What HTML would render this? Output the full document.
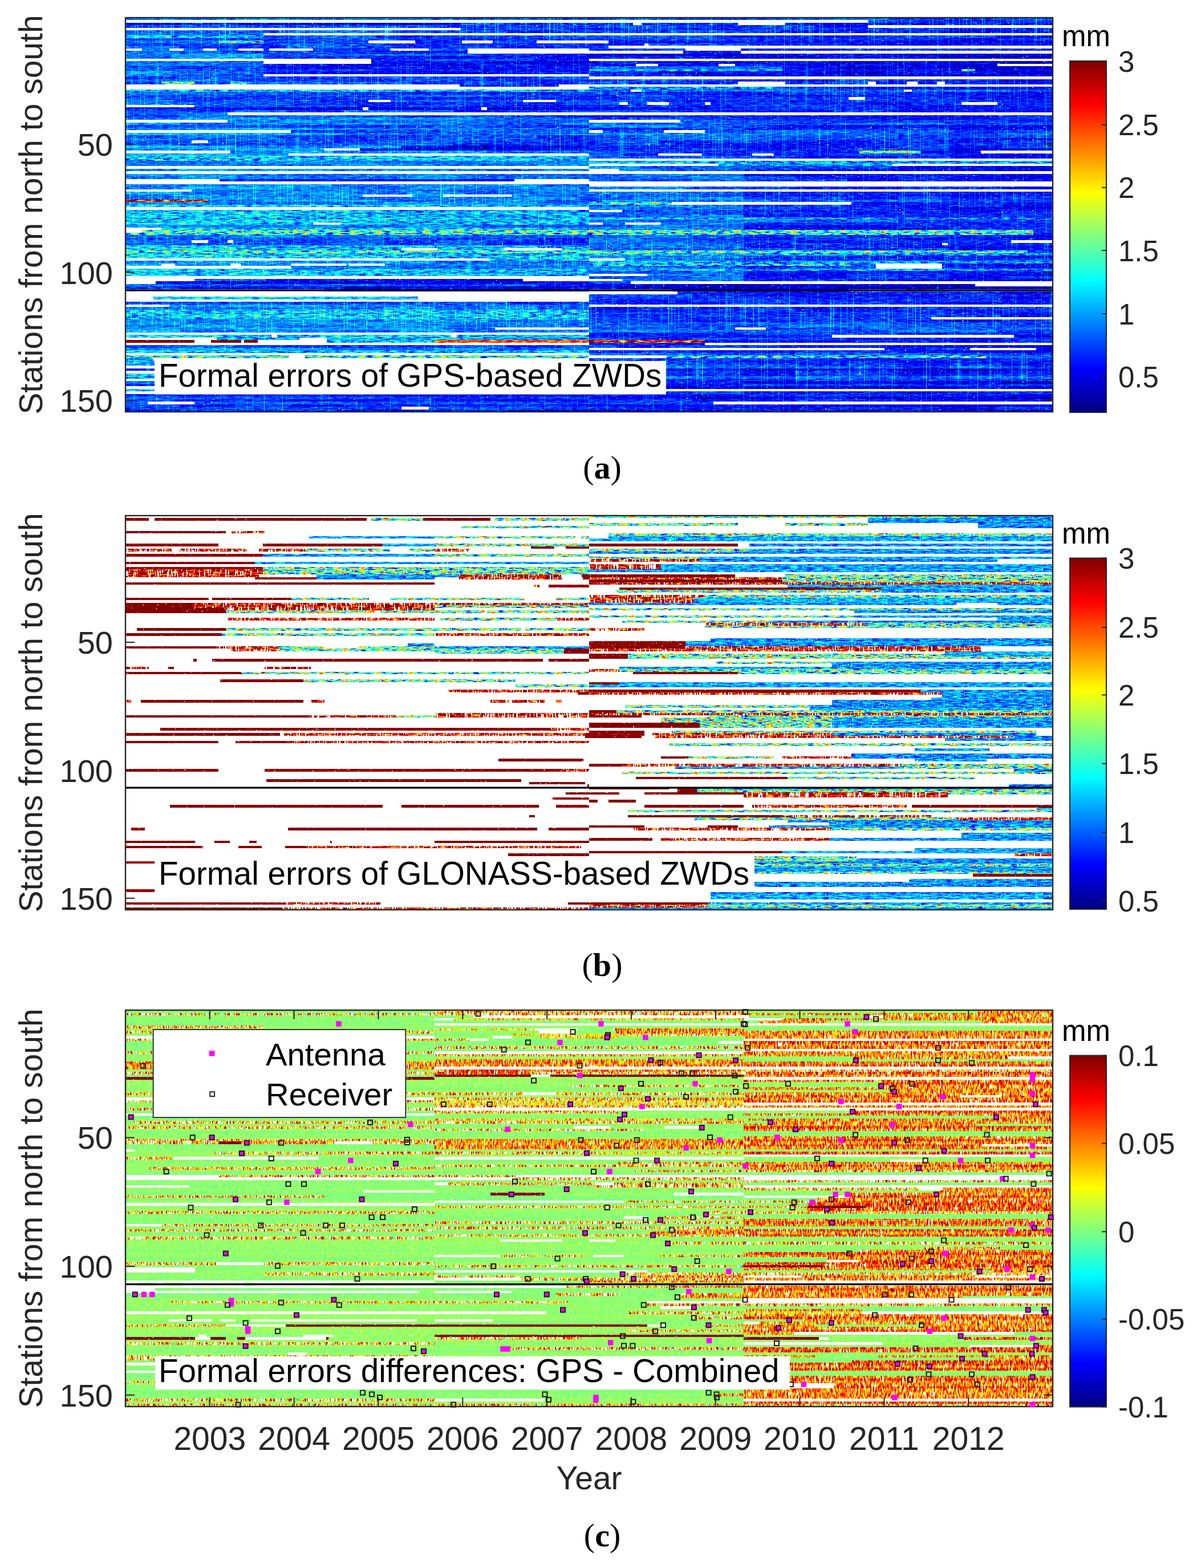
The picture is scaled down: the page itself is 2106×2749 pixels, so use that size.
<!DOCTYPE html><html><head><meta charset="utf-8"><style>html,body{margin:0;padding:0;background:#fff}svg{display:block}text{font-family:"Liberation Sans",Arial,sans-serif}</style></head><body>
<svg width="2106" height="2749" viewBox="0 0 2106 2749">
<defs><linearGradient id="jet" x1="0" y1="0" x2="0" y2="1"><stop offset="0.0000" stop-color="#800000"/><stop offset="0.0312" stop-color="#9f0000"/><stop offset="0.0625" stop-color="#bf0000"/><stop offset="0.0938" stop-color="#df0000"/><stop offset="0.1250" stop-color="#ff0000"/><stop offset="0.1562" stop-color="#ff2000"/><stop offset="0.1875" stop-color="#ff4000"/><stop offset="0.2188" stop-color="#ff6000"/><stop offset="0.2500" stop-color="#ff8000"/><stop offset="0.2812" stop-color="#ff9f00"/><stop offset="0.3125" stop-color="#ffbf00"/><stop offset="0.3438" stop-color="#ffdf00"/><stop offset="0.3750" stop-color="#ffff00"/><stop offset="0.4062" stop-color="#dfff20"/><stop offset="0.4375" stop-color="#bfff40"/><stop offset="0.4688" stop-color="#9fff60"/><stop offset="0.5000" stop-color="#80ff80"/><stop offset="0.5312" stop-color="#60ff9f"/><stop offset="0.5625" stop-color="#40ffbf"/><stop offset="0.5938" stop-color="#20ffdf"/><stop offset="0.6250" stop-color="#00ffff"/><stop offset="0.6562" stop-color="#00dfff"/><stop offset="0.6875" stop-color="#00bfff"/><stop offset="0.7188" stop-color="#009fff"/><stop offset="0.7500" stop-color="#0080ff"/><stop offset="0.7812" stop-color="#0060ff"/><stop offset="0.8125" stop-color="#0040ff"/><stop offset="0.8438" stop-color="#0020ff"/><stop offset="0.8750" stop-color="#0000ff"/><stop offset="0.9062" stop-color="#0000df"/><stop offset="0.9375" stop-color="#0000bf"/><stop offset="0.9688" stop-color="#00009f"/><stop offset="1.0000" stop-color="#000080"/></linearGradient><filter id="fa0" filterUnits="userSpaceOnUse" x="220" y="31" width="1626" height="691" color-interpolation-filters="sRGB"><feTurbulence type="fractalNoise" baseFrequency="0.07 0.45" numOctaves="2" seed="97" result="t1"/><feColorMatrix in="t1" values="1 0 0 0 0 1 0 0 0 0 1 0 0 0 0 0 0 0 0 1" result="n1"/><feTurbulence type="fractalNoise" baseFrequency="0.9 0.01" numOctaves="1" seed="100" result="t2"/><feColorMatrix in="t2" values="4 0 0 0 -2.4 4 0 0 0 -2.4 4 0 0 0 -2.4 0 0 0 0 1" result="n2"/><feComposite in="SourceGraphic" in2="n1" operator="arithmetic" k2="1" k3="0.28" k4="-0.14" result="v1"/><feComposite in="v1" in2="n2" operator="arithmetic" k2="1" k3="0.25" result="v"/><feComponentTransfer in="v" result="m"><feFuncR type="table" tableValues="0 0 0 0 0 0 0 0 0 0 0 0 0 0 0 0 0 0 0 0 0 0 0 0 0 0.063 0.125 0.188 0.251 0.314 0.376 0.439 0.502 0.561 0.624 0.686 0.749 0.812 0.875 0.937 1 1 1 1 1 1 1 1 1 1 1 1 1 1 1 1 1 0.937 0.875 0.812 0.749 0.686 0.624 0.561 0.502"/><feFuncG type="table" tableValues="0 0 0 0 0 0 0 0 0 0.063 0.125 0.188 0.251 0.314 0.376 0.439 0.502 0.561 0.624 0.686 0.749 0.812 0.875 0.937 1 1 1 1 1 1 1 1 1 1 1 1 1 1 1 1 1 0.937 0.875 0.812 0.749 0.686 0.624 0.561 0.502 0.439 0.376 0.314 0.251 0.188 0.125 0.063 0 0 0 0 0 0 0 0 0"/><feFuncB type="table" tableValues="0.502 0.561 0.624 0.686 0.749 0.812 0.875 0.937 1 1 1 1 1 1 1 1 1 1 1 1 1 1 1 1 1 0.937 0.875 0.812 0.749 0.686 0.624 0.561 0.502 0.439 0.376 0.314 0.251 0.188 0.125 0.063 0 0 0 0 0 0 0 0 0 0 0 0 0 0 0 0 0 0 0 0 0 0 0 0 0"/><feFuncA type="linear" slope="0" intercept="1"/></feComponentTransfer><feTurbulence type="fractalNoise" baseFrequency="0.3 0.45" numOctaves="1" seed="108" result="t3"/><feColorMatrix in="t3" values="0 0 0 0 0 0 0 0 0 0 0 0 0 0 0 -30 0 0 0 22.80" result="h"/><feComposite in="m" in2="h" operator="in" result="mh"/><feComposite in="mh" in2="SourceAlpha" operator="in"/></filter><filter id="fa1" filterUnits="userSpaceOnUse" x="220" y="31" width="1626" height="691" color-interpolation-filters="sRGB"><feTurbulence type="fractalNoise" baseFrequency="0.07 0.45" numOctaves="2" seed="104" result="t1"/><feColorMatrix in="t1" values="1 0 0 0 0 1 0 0 0 0 1 0 0 0 0 0 0 0 0 1" result="n1"/><feTurbulence type="fractalNoise" baseFrequency="0.9 0.01" numOctaves="1" seed="105" result="t2"/><feColorMatrix in="t2" values="4 0 0 0 -2.4 4 0 0 0 -2.4 4 0 0 0 -2.4 0 0 0 0 1" result="n2"/><feComposite in="SourceGraphic" in2="n1" operator="arithmetic" k2="1" k3="0.6" k4="-0.3" result="v1"/><feComposite in="v1" in2="n2" operator="arithmetic" k2="1" k3="0.25" result="v"/><feComponentTransfer in="v" result="m"><feFuncR type="table" tableValues="0 0 0 0 0 0 0 0 0 0 0 0 0 0 0 0 0 0 0 0 0 0 0 0 0 0.063 0.125 0.188 0.251 0.314 0.376 0.439 0.502 0.561 0.624 0.686 0.749 0.812 0.875 0.937 1 1 1 1 1 1 1 1 1 1 1 1 1 1 1 1 1 0.937 0.875 0.812 0.749 0.686 0.624 0.561 0.502"/><feFuncG type="table" tableValues="0 0 0 0 0 0 0 0 0 0.063 0.125 0.188 0.251 0.314 0.376 0.439 0.502 0.561 0.624 0.686 0.749 0.812 0.875 0.937 1 1 1 1 1 1 1 1 1 1 1 1 1 1 1 1 1 0.937 0.875 0.812 0.749 0.686 0.624 0.561 0.502 0.439 0.376 0.314 0.251 0.188 0.125 0.063 0 0 0 0 0 0 0 0 0"/><feFuncB type="table" tableValues="0.502 0.561 0.624 0.686 0.749 0.812 0.875 0.937 1 1 1 1 1 1 1 1 1 1 1 1 1 1 1 1 1 0.937 0.875 0.812 0.749 0.686 0.624 0.561 0.502 0.439 0.376 0.314 0.251 0.188 0.125 0.063 0 0 0 0 0 0 0 0 0 0 0 0 0 0 0 0 0 0 0 0 0 0 0 0 0"/><feFuncA type="linear" slope="0" intercept="1"/></feComponentTransfer><feTurbulence type="fractalNoise" baseFrequency="0.3 0.45" numOctaves="1" seed="111" result="t3"/><feColorMatrix in="t3" values="0 0 0 0 0 0 0 0 0 0 0 0 0 0 0 -30 0 0 0 22.80" result="h"/><feComposite in="m" in2="h" operator="in" result="mh"/><feComposite in="mh" in2="SourceAlpha" operator="in"/></filter><filter id="fa2" filterUnits="userSpaceOnUse" x="220" y="31" width="1626" height="691" color-interpolation-filters="sRGB"><feTurbulence type="fractalNoise" baseFrequency="0.07 0.45" numOctaves="2" seed="111" result="t1"/><feColorMatrix in="t1" values="1 0 0 0 0 1 0 0 0 0 1 0 0 0 0 0 0 0 0 1" result="n1"/><feTurbulence type="fractalNoise" baseFrequency="0.9 0.01" numOctaves="1" seed="110" result="t2"/><feColorMatrix in="t2" values="4 0 0 0 -2.4 4 0 0 0 -2.4 4 0 0 0 -2.4 0 0 0 0 1" result="n2"/><feComposite in="SourceGraphic" in2="n1" operator="arithmetic" k2="1" k3="1.2" k4="-0.6" result="v1"/><feComposite in="v1" in2="n2" operator="arithmetic" k2="1" k3="0.25" result="v"/><feComponentTransfer in="v" result="m"><feFuncR type="table" tableValues="0 0 0 0 0 0 0 0 0 0 0 0 0 0 0 0 0 0 0 0 0 0 0 0 0 0.063 0.125 0.188 0.251 0.314 0.376 0.439 0.502 0.561 0.624 0.686 0.749 0.812 0.875 0.937 1 1 1 1 1 1 1 1 1 1 1 1 1 1 1 1 1 0.937 0.875 0.812 0.749 0.686 0.624 0.561 0.502"/><feFuncG type="table" tableValues="0 0 0 0 0 0 0 0 0 0.063 0.125 0.188 0.251 0.314 0.376 0.439 0.502 0.561 0.624 0.686 0.749 0.812 0.875 0.937 1 1 1 1 1 1 1 1 1 1 1 1 1 1 1 1 1 0.937 0.875 0.812 0.749 0.686 0.624 0.561 0.502 0.439 0.376 0.314 0.251 0.188 0.125 0.063 0 0 0 0 0 0 0 0 0"/><feFuncB type="table" tableValues="0.502 0.561 0.624 0.686 0.749 0.812 0.875 0.937 1 1 1 1 1 1 1 1 1 1 1 1 1 1 1 1 1 0.937 0.875 0.812 0.749 0.686 0.624 0.561 0.502 0.439 0.376 0.314 0.251 0.188 0.125 0.063 0 0 0 0 0 0 0 0 0 0 0 0 0 0 0 0 0 0 0 0 0 0 0 0 0"/><feFuncA type="linear" slope="0" intercept="1"/></feComponentTransfer><feTurbulence type="fractalNoise" baseFrequency="0.3 0.45" numOctaves="1" seed="114" result="t3"/><feColorMatrix in="t3" values="0 0 0 0 0 0 0 0 0 0 0 0 0 0 0 -30 0 0 0 22.20" result="h"/><feComposite in="m" in2="h" operator="in" result="mh"/><feComposite in="mh" in2="SourceAlpha" operator="in"/></filter><filter id="fa3" filterUnits="userSpaceOnUse" x="220" y="31" width="1626" height="691" color-interpolation-filters="sRGB"><feTurbulence type="fractalNoise" baseFrequency="0.07 0.45" numOctaves="2" seed="118" result="t1"/><feColorMatrix in="t1" values="1 0 0 0 0 1 0 0 0 0 1 0 0 0 0 0 0 0 0 1" result="n1"/><feTurbulence type="fractalNoise" baseFrequency="0.9 0.01" numOctaves="1" seed="115" result="t2"/><feColorMatrix in="t2" values="4 0 0 0 -2.4 4 0 0 0 -2.4 4 0 0 0 -2.4 0 0 0 0 1" result="n2"/><feComposite in="SourceGraphic" in2="n1" operator="arithmetic" k2="1" k3="0.12" k4="-0.06" result="v1"/><feComposite in="v1" in2="n2" operator="arithmetic" k2="1" k3="0.25" result="v"/><feComponentTransfer in="v" result="m"><feFuncR type="table" tableValues="0 0 0 0 0 0 0 0 0 0 0 0 0 0 0 0 0 0 0 0 0 0 0 0 0 0.063 0.125 0.188 0.251 0.314 0.376 0.439 0.502 0.561 0.624 0.686 0.749 0.812 0.875 0.937 1 1 1 1 1 1 1 1 1 1 1 1 1 1 1 1 1 0.937 0.875 0.812 0.749 0.686 0.624 0.561 0.502"/><feFuncG type="table" tableValues="0 0 0 0 0 0 0 0 0 0.063 0.125 0.188 0.251 0.314 0.376 0.439 0.502 0.561 0.624 0.686 0.749 0.812 0.875 0.937 1 1 1 1 1 1 1 1 1 1 1 1 1 1 1 1 1 0.937 0.875 0.812 0.749 0.686 0.624 0.561 0.502 0.439 0.376 0.314 0.251 0.188 0.125 0.063 0 0 0 0 0 0 0 0 0"/><feFuncB type="table" tableValues="0.502 0.561 0.624 0.686 0.749 0.812 0.875 0.937 1 1 1 1 1 1 1 1 1 1 1 1 1 1 1 1 1 0.937 0.875 0.812 0.749 0.686 0.624 0.561 0.502 0.439 0.376 0.314 0.251 0.188 0.125 0.063 0 0 0 0 0 0 0 0 0 0 0 0 0 0 0 0 0 0 0 0 0 0 0 0 0"/><feFuncA type="linear" slope="0" intercept="1"/></feComponentTransfer><feTurbulence type="fractalNoise" baseFrequency="0.3 0.45" numOctaves="1" seed="117" result="t3"/><feColorMatrix in="t3" values="0 0 0 0 0 0 0 0 0 0 0 0 0 0 0 -30 0 0 0 22.80" result="h"/><feComposite in="m" in2="h" operator="in" result="mh"/><feComposite in="mh" in2="SourceAlpha" operator="in"/></filter><filter id="fa4" filterUnits="userSpaceOnUse" x="220" y="31" width="1626" height="691" color-interpolation-filters="sRGB"><feTurbulence type="fractalNoise" baseFrequency="0.07 0.45" numOctaves="2" seed="125" result="t1"/><feColorMatrix in="t1" values="1 0 0 0 0 1 0 0 0 0 1 0 0 0 0 0 0 0 0 1" result="n1"/><feTurbulence type="fractalNoise" baseFrequency="0.9 0.01" numOctaves="1" seed="120" result="t2"/><feColorMatrix in="t2" values="4 0 0 0 -2.4 4 0 0 0 -2.4 4 0 0 0 -2.4 0 0 0 0 1" result="n2"/><feComposite in="SourceGraphic" in2="n1" operator="arithmetic" k2="1" k3="1.2" k4="-0.6" result="v1"/><feComposite in="v1" in2="n2" operator="arithmetic" k2="1" k3="0.25" result="v"/><feComponentTransfer in="v" result="m"><feFuncR type="table" tableValues="0 0 0 0 0 0 0 0 0 0 0 0 0 0 0 0 0 0 0 0 0 0 0 0 0 0.063 0.125 0.188 0.251 0.314 0.376 0.439 0.502 0.561 0.624 0.686 0.749 0.812 0.875 0.937 1 1 1 1 1 1 1 1 1 1 1 1 1 1 1 1 1 0.937 0.875 0.812 0.749 0.686 0.624 0.561 0.502"/><feFuncG type="table" tableValues="0 0 0 0 0 0 0 0 0 0.063 0.125 0.188 0.251 0.314 0.376 0.439 0.502 0.561 0.624 0.686 0.749 0.812 0.875 0.937 1 1 1 1 1 1 1 1 1 1 1 1 1 1 1 1 1 0.937 0.875 0.812 0.749 0.686 0.624 0.561 0.502 0.439 0.376 0.314 0.251 0.188 0.125 0.063 0 0 0 0 0 0 0 0 0"/><feFuncB type="table" tableValues="0.502 0.561 0.624 0.686 0.749 0.812 0.875 0.937 1 1 1 1 1 1 1 1 1 1 1 1 1 1 1 1 1 0.937 0.875 0.812 0.749 0.686 0.624 0.561 0.502 0.439 0.376 0.314 0.251 0.188 0.125 0.063 0 0 0 0 0 0 0 0 0 0 0 0 0 0 0 0 0 0 0 0 0 0 0 0 0"/><feFuncA type="linear" slope="0" intercept="1"/></feComponentTransfer><feTurbulence type="fractalNoise" baseFrequency="0.45 0.08" numOctaves="1" seed="120" result="t3"/><feColorMatrix in="t3" values="0 0 0 0 0 0 0 0 0 0 0 0 0 0 0 -30 0 0 0 18.60" result="h"/><feComposite in="m" in2="h" operator="in" result="mh"/><feComposite in="mh" in2="SourceAlpha" operator="in"/></filter><filter id="fb0" filterUnits="userSpaceOnUse" x="220" y="904" width="1626" height="691" color-interpolation-filters="sRGB"><feTurbulence type="fractalNoise" baseFrequency="0.07 0.45" numOctaves="2" seed="98" result="t1"/><feColorMatrix in="t1" values="1 0 0 0 0 1 0 0 0 0 1 0 0 0 0 0 0 0 0 1" result="n1"/><feTurbulence type="fractalNoise" baseFrequency="0.9 0.01" numOctaves="1" seed="101" result="t2"/><feColorMatrix in="t2" values="4 0 0 0 -2.4 4 0 0 0 -2.4 4 0 0 0 -2.4 0 0 0 0 1" result="n2"/><feComposite in="SourceGraphic" in2="n1" operator="arithmetic" k2="1" k3="0.5" k4="-0.25" result="v1"/><feComposite in="v1" in2="n2" operator="arithmetic" k2="1" k3="0.15" result="v"/><feComponentTransfer in="v" result="m"><feFuncR type="table" tableValues="0 0 0 0 0 0 0 0 0 0 0 0 0 0 0 0 0 0 0 0 0 0 0 0 0 0.063 0.125 0.188 0.251 0.314 0.376 0.439 0.502 0.561 0.624 0.686 0.749 0.812 0.875 0.937 1 1 1 1 1 1 1 1 1 1 1 1 1 1 1 1 1 0.937 0.875 0.812 0.749 0.686 0.624 0.561 0.502"/><feFuncG type="table" tableValues="0 0 0 0 0 0 0 0 0 0.063 0.125 0.188 0.251 0.314 0.376 0.439 0.502 0.561 0.624 0.686 0.749 0.812 0.875 0.937 1 1 1 1 1 1 1 1 1 1 1 1 1 1 1 1 1 0.937 0.875 0.812 0.749 0.686 0.624 0.561 0.502 0.439 0.376 0.314 0.251 0.188 0.125 0.063 0 0 0 0 0 0 0 0 0"/><feFuncB type="table" tableValues="0.502 0.561 0.624 0.686 0.749 0.812 0.875 0.937 1 1 1 1 1 1 1 1 1 1 1 1 1 1 1 1 1 0.937 0.875 0.812 0.749 0.686 0.624 0.561 0.502 0.439 0.376 0.314 0.251 0.188 0.125 0.063 0 0 0 0 0 0 0 0 0 0 0 0 0 0 0 0 0 0 0 0 0 0 0 0 0"/><feFuncA type="linear" slope="0" intercept="1"/></feComponentTransfer><feTurbulence type="fractalNoise" baseFrequency="0.3 0.45" numOctaves="1" seed="109" result="t3"/><feColorMatrix in="t3" values="0 0 0 0 0 0 0 0 0 0 0 0 0 0 0 -30 0 0 0 21.60" result="h"/><feComposite in="m" in2="h" operator="in" result="mh"/><feComposite in="mh" in2="SourceAlpha" operator="in"/></filter><filter id="fb1" filterUnits="userSpaceOnUse" x="220" y="904" width="1626" height="691" color-interpolation-filters="sRGB"><feTurbulence type="fractalNoise" baseFrequency="0.07 0.45" numOctaves="2" seed="105" result="t1"/><feColorMatrix in="t1" values="1 0 0 0 0 1 0 0 0 0 1 0 0 0 0 0 0 0 0 1" result="n1"/><feTurbulence type="fractalNoise" baseFrequency="0.9 0.01" numOctaves="1" seed="106" result="t2"/><feColorMatrix in="t2" values="4 0 0 0 -2.4 4 0 0 0 -2.4 4 0 0 0 -2.4 0 0 0 0 1" result="n2"/><feComposite in="SourceGraphic" in2="n1" operator="arithmetic" k2="1" k3="0.8" k4="-0.4" result="v1"/><feComposite in="v1" in2="n2" operator="arithmetic" k2="1" k3="0.15" result="v"/><feComponentTransfer in="v" result="m"><feFuncR type="table" tableValues="0 0 0 0 0 0 0 0 0 0 0 0 0 0 0 0 0 0 0 0 0 0 0 0 0 0.063 0.125 0.188 0.251 0.314 0.376 0.439 0.502 0.561 0.624 0.686 0.749 0.812 0.875 0.937 1 1 1 1 1 1 1 1 1 1 1 1 1 1 1 1 1 0.937 0.875 0.812 0.749 0.686 0.624 0.561 0.502"/><feFuncG type="table" tableValues="0 0 0 0 0 0 0 0 0 0.063 0.125 0.188 0.251 0.314 0.376 0.439 0.502 0.561 0.624 0.686 0.749 0.812 0.875 0.937 1 1 1 1 1 1 1 1 1 1 1 1 1 1 1 1 1 0.937 0.875 0.812 0.749 0.686 0.624 0.561 0.502 0.439 0.376 0.314 0.251 0.188 0.125 0.063 0 0 0 0 0 0 0 0 0"/><feFuncB type="table" tableValues="0.502 0.561 0.624 0.686 0.749 0.812 0.875 0.937 1 1 1 1 1 1 1 1 1 1 1 1 1 1 1 1 1 0.937 0.875 0.812 0.749 0.686 0.624 0.561 0.502 0.439 0.376 0.314 0.251 0.188 0.125 0.063 0 0 0 0 0 0 0 0 0 0 0 0 0 0 0 0 0 0 0 0 0 0 0 0 0"/><feFuncA type="linear" slope="0" intercept="1"/></feComponentTransfer><feTurbulence type="fractalNoise" baseFrequency="0.3 0.45" numOctaves="1" seed="112" result="t3"/><feColorMatrix in="t3" values="0 0 0 0 0 0 0 0 0 0 0 0 0 0 0 -30 0 0 0 21.00" result="h"/><feComposite in="m" in2="h" operator="in" result="mh"/><feComposite in="mh" in2="SourceAlpha" operator="in"/></filter><filter id="fb2" filterUnits="userSpaceOnUse" x="220" y="904" width="1626" height="691" color-interpolation-filters="sRGB"><feTurbulence type="fractalNoise" baseFrequency="0.07 0.45" numOctaves="2" seed="112" result="t1"/><feColorMatrix in="t1" values="1 0 0 0 0 1 0 0 0 0 1 0 0 0 0 0 0 0 0 1" result="n1"/><feTurbulence type="fractalNoise" baseFrequency="0.9 0.01" numOctaves="1" seed="111" result="t2"/><feColorMatrix in="t2" values="4 0 0 0 -2.4 4 0 0 0 -2.4 4 0 0 0 -2.4 0 0 0 0 1" result="n2"/><feComposite in="SourceGraphic" in2="n1" operator="arithmetic" k2="1" k3="1.4" k4="-0.7" result="v1"/><feComposite in="v1" in2="n2" operator="arithmetic" k2="1" k3="0.15" result="v"/><feComponentTransfer in="v" result="m"><feFuncR type="table" tableValues="0 0 0 0 0 0 0 0 0 0 0 0 0 0 0 0 0 0 0 0 0 0 0 0 0 0.063 0.125 0.188 0.251 0.314 0.376 0.439 0.502 0.561 0.624 0.686 0.749 0.812 0.875 0.937 1 1 1 1 1 1 1 1 1 1 1 1 1 1 1 1 1 0.937 0.875 0.812 0.749 0.686 0.624 0.561 0.502"/><feFuncG type="table" tableValues="0 0 0 0 0 0 0 0 0 0.063 0.125 0.188 0.251 0.314 0.376 0.439 0.502 0.561 0.624 0.686 0.749 0.812 0.875 0.937 1 1 1 1 1 1 1 1 1 1 1 1 1 1 1 1 1 0.937 0.875 0.812 0.749 0.686 0.624 0.561 0.502 0.439 0.376 0.314 0.251 0.188 0.125 0.063 0 0 0 0 0 0 0 0 0"/><feFuncB type="table" tableValues="0.502 0.561 0.624 0.686 0.749 0.812 0.875 0.937 1 1 1 1 1 1 1 1 1 1 1 1 1 1 1 1 1 0.937 0.875 0.812 0.749 0.686 0.624 0.561 0.502 0.439 0.376 0.314 0.251 0.188 0.125 0.063 0 0 0 0 0 0 0 0 0 0 0 0 0 0 0 0 0 0 0 0 0 0 0 0 0"/><feFuncA type="linear" slope="0" intercept="1"/></feComponentTransfer><feTurbulence type="fractalNoise" baseFrequency="0.3 0.45" numOctaves="1" seed="115" result="t3"/><feColorMatrix in="t3" values="0 0 0 0 0 0 0 0 0 0 0 0 0 0 0 -30 0 0 0 19.80" result="h"/><feComposite in="m" in2="h" operator="in" result="mh"/><feComposite in="mh" in2="SourceAlpha" operator="in"/></filter><filter id="fb3" filterUnits="userSpaceOnUse" x="220" y="904" width="1626" height="691" color-interpolation-filters="sRGB"><feTurbulence type="fractalNoise" baseFrequency="0.07 0.45" numOctaves="2" seed="119" result="t1"/><feColorMatrix in="t1" values="1 0 0 0 0 1 0 0 0 0 1 0 0 0 0 0 0 0 0 1" result="n1"/><feTurbulence type="fractalNoise" baseFrequency="0.9 0.01" numOctaves="1" seed="116" result="t2"/><feColorMatrix in="t2" values="4 0 0 0 -2.4 4 0 0 0 -2.4 4 0 0 0 -2.4 0 0 0 0 1" result="n2"/><feComposite in="SourceGraphic" in2="n1" operator="arithmetic" k2="1" k3="0.12" k4="-0.06" result="v1"/><feComposite in="v1" in2="n2" operator="arithmetic" k2="1" k3="0.15" result="v"/><feComponentTransfer in="v" result="m"><feFuncR type="table" tableValues="0 0 0 0 0 0 0 0 0 0 0 0 0 0 0 0 0 0 0 0 0 0 0 0 0 0.063 0.125 0.188 0.251 0.314 0.376 0.439 0.502 0.561 0.624 0.686 0.749 0.812 0.875 0.937 1 1 1 1 1 1 1 1 1 1 1 1 1 1 1 1 1 0.937 0.875 0.812 0.749 0.686 0.624 0.561 0.502"/><feFuncG type="table" tableValues="0 0 0 0 0 0 0 0 0 0.063 0.125 0.188 0.251 0.314 0.376 0.439 0.502 0.561 0.624 0.686 0.749 0.812 0.875 0.937 1 1 1 1 1 1 1 1 1 1 1 1 1 1 1 1 1 0.937 0.875 0.812 0.749 0.686 0.624 0.561 0.502 0.439 0.376 0.314 0.251 0.188 0.125 0.063 0 0 0 0 0 0 0 0 0"/><feFuncB type="table" tableValues="0.502 0.561 0.624 0.686 0.749 0.812 0.875 0.937 1 1 1 1 1 1 1 1 1 1 1 1 1 1 1 1 1 0.937 0.875 0.812 0.749 0.686 0.624 0.561 0.502 0.439 0.376 0.314 0.251 0.188 0.125 0.063 0 0 0 0 0 0 0 0 0 0 0 0 0 0 0 0 0 0 0 0 0 0 0 0 0"/><feFuncA type="linear" slope="0" intercept="1"/></feComponentTransfer><feTurbulence type="fractalNoise" baseFrequency="0.3 0.45" numOctaves="1" seed="118" result="t3"/><feColorMatrix in="t3" values="0 0 0 0 0 0 0 0 0 0 0 0 0 0 0 -30 0 0 0 22.20" result="h"/><feComposite in="m" in2="h" operator="in" result="mh"/><feComposite in="mh" in2="SourceAlpha" operator="in"/></filter><filter id="fb4" filterUnits="userSpaceOnUse" x="220" y="904" width="1626" height="691" color-interpolation-filters="sRGB"><feTurbulence type="fractalNoise" baseFrequency="0.07 0.45" numOctaves="2" seed="126" result="t1"/><feColorMatrix in="t1" values="1 0 0 0 0 1 0 0 0 0 1 0 0 0 0 0 0 0 0 1" result="n1"/><feTurbulence type="fractalNoise" baseFrequency="0.9 0.01" numOctaves="1" seed="121" result="t2"/><feColorMatrix in="t2" values="4 0 0 0 -2.4 4 0 0 0 -2.4 4 0 0 0 -2.4 0 0 0 0 1" result="n2"/><feComposite in="SourceGraphic" in2="n1" operator="arithmetic" k2="1" k3="1.0" k4="-0.5" result="v1"/><feComposite in="v1" in2="n2" operator="arithmetic" k2="1" k3="0.15" result="v"/><feComponentTransfer in="v" result="m"><feFuncR type="table" tableValues="0 0 0 0 0 0 0 0 0 0 0 0 0 0 0 0 0 0 0 0 0 0 0 0 0 0.063 0.125 0.188 0.251 0.314 0.376 0.439 0.502 0.561 0.624 0.686 0.749 0.812 0.875 0.937 1 1 1 1 1 1 1 1 1 1 1 1 1 1 1 1 1 0.937 0.875 0.812 0.749 0.686 0.624 0.561 0.502"/><feFuncG type="table" tableValues="0 0 0 0 0 0 0 0 0 0.063 0.125 0.188 0.251 0.314 0.376 0.439 0.502 0.561 0.624 0.686 0.749 0.812 0.875 0.937 1 1 1 1 1 1 1 1 1 1 1 1 1 1 1 1 1 0.937 0.875 0.812 0.749 0.686 0.624 0.561 0.502 0.439 0.376 0.314 0.251 0.188 0.125 0.063 0 0 0 0 0 0 0 0 0"/><feFuncB type="table" tableValues="0.502 0.561 0.624 0.686 0.749 0.812 0.875 0.937 1 1 1 1 1 1 1 1 1 1 1 1 1 1 1 1 1 0.937 0.875 0.812 0.749 0.686 0.624 0.561 0.502 0.439 0.376 0.314 0.251 0.188 0.125 0.063 0 0 0 0 0 0 0 0 0 0 0 0 0 0 0 0 0 0 0 0 0 0 0 0 0"/><feFuncA type="linear" slope="0" intercept="1"/></feComponentTransfer><feTurbulence type="fractalNoise" baseFrequency="0.45 0.08" numOctaves="1" seed="121" result="t3"/><feColorMatrix in="t3" values="0 0 0 0 0 0 0 0 0 0 0 0 0 0 0 -30 0 0 0 18.00" result="h"/><feComposite in="m" in2="h" operator="in" result="mh"/><feComposite in="mh" in2="SourceAlpha" operator="in"/></filter><filter id="fc0" filterUnits="userSpaceOnUse" x="220" y="1771" width="1626" height="695" color-interpolation-filters="sRGB"><feTurbulence type="fractalNoise" baseFrequency="0.35 0.12" numOctaves="2" seed="99" result="t1"/><feColorMatrix in="t1" values="1 0 0 0 0 1 0 0 0 0 1 0 0 0 0 0 0 0 0 1" result="n1"/><feTurbulence type="fractalNoise" baseFrequency="0.9 0.01" numOctaves="1" seed="102" result="t2"/><feColorMatrix in="t2" values="4 0 0 0 -2.4 4 0 0 0 -2.4 4 0 0 0 -2.4 0 0 0 0 1" result="n2"/><feComposite in="SourceGraphic" in2="n1" operator="arithmetic" k2="1" k3="0.1" k4="-0.05" result="v1"/><feComposite in="v1" in2="n2" operator="arithmetic" k2="1" k3="0.05" result="v"/><feComponentTransfer in="v" result="m"><feFuncR type="table" tableValues="0 0 0 0 0 0 0 0 0 0 0 0 0 0 0 0 0 0 0 0 0 0 0 0 0 0.063 0.125 0.188 0.251 0.314 0.376 0.439 0.502 0.561 0.624 0.686 0.749 0.812 0.875 0.937 1 1 1 1 1 1 1 1 1 1 1 1 1 1 1 1 1 0.937 0.875 0.812 0.749 0.686 0.624 0.561 0.502"/><feFuncG type="table" tableValues="0 0 0 0 0 0 0 0 0 0.063 0.125 0.188 0.251 0.314 0.376 0.439 0.502 0.561 0.624 0.686 0.749 0.812 0.875 0.937 1 1 1 1 1 1 1 1 1 1 1 1 1 1 1 1 1 0.937 0.875 0.812 0.749 0.686 0.624 0.561 0.502 0.439 0.376 0.314 0.251 0.188 0.125 0.063 0 0 0 0 0 0 0 0 0"/><feFuncB type="table" tableValues="0.502 0.561 0.624 0.686 0.749 0.812 0.875 0.937 1 1 1 1 1 1 1 1 1 1 1 1 1 1 1 1 1 0.937 0.875 0.812 0.749 0.686 0.624 0.561 0.502 0.439 0.376 0.314 0.251 0.188 0.125 0.063 0 0 0 0 0 0 0 0 0 0 0 0 0 0 0 0 0 0 0 0 0 0 0 0 0"/><feFuncA type="linear" slope="0" intercept="1"/></feComponentTransfer><feTurbulence type="fractalNoise" baseFrequency="0.3 0.45" numOctaves="1" seed="110" result="t3"/><feColorMatrix in="t3" values="0 0 0 0 0 0 0 0 0 0 0 0 0 0 0 -30 0 0 0 22.50" result="h"/><feComposite in="m" in2="h" operator="in" result="mh"/><feComposite in="mh" in2="SourceAlpha" operator="in"/></filter><filter id="fc1" filterUnits="userSpaceOnUse" x="220" y="1771" width="1626" height="695" color-interpolation-filters="sRGB"><feTurbulence type="fractalNoise" baseFrequency="0.35 0.12" numOctaves="2" seed="106" result="t1"/><feColorMatrix in="t1" values="1 0 0 0 0 1 0 0 0 0 1 0 0 0 0 0 0 0 0 1" result="n1"/><feTurbulence type="fractalNoise" baseFrequency="0.9 0.01" numOctaves="1" seed="107" result="t2"/><feColorMatrix in="t2" values="4 0 0 0 -2.4 4 0 0 0 -2.4 4 0 0 0 -2.4 0 0 0 0 1" result="n2"/><feComposite in="SourceGraphic" in2="n1" operator="arithmetic" k2="1" k3="0.8" k4="-0.4" result="v1"/><feComposite in="v1" in2="n2" operator="arithmetic" k2="1" k3="0.05" result="v"/><feComponentTransfer in="v" result="m"><feFuncR type="table" tableValues="0 0 0 0 0 0 0 0 0 0 0 0 0 0 0 0 0 0 0 0 0 0 0 0 0 0.063 0.125 0.188 0.251 0.314 0.376 0.439 0.502 0.561 0.624 0.686 0.749 0.812 0.875 0.937 1 1 1 1 1 1 1 1 1 1 1 1 1 1 1 1 1 0.937 0.875 0.812 0.749 0.686 0.624 0.561 0.502"/><feFuncG type="table" tableValues="0 0 0 0 0 0 0 0 0 0.063 0.125 0.188 0.251 0.314 0.376 0.439 0.502 0.561 0.624 0.686 0.749 0.812 0.875 0.937 1 1 1 1 1 1 1 1 1 1 1 1 1 1 1 1 1 0.937 0.875 0.812 0.749 0.686 0.624 0.561 0.502 0.439 0.376 0.314 0.251 0.188 0.125 0.063 0 0 0 0 0 0 0 0 0"/><feFuncB type="table" tableValues="0.502 0.561 0.624 0.686 0.749 0.812 0.875 0.937 1 1 1 1 1 1 1 1 1 1 1 1 1 1 1 1 1 0.937 0.875 0.812 0.749 0.686 0.624 0.561 0.502 0.439 0.376 0.314 0.251 0.188 0.125 0.063 0 0 0 0 0 0 0 0 0 0 0 0 0 0 0 0 0 0 0 0 0 0 0 0 0"/><feFuncA type="linear" slope="0" intercept="1"/></feComponentTransfer><feTurbulence type="fractalNoise" baseFrequency="0.45 0.08" numOctaves="1" seed="113" result="t3"/><feColorMatrix in="t3" values="0 0 0 0 0 0 0 0 0 0 0 0 0 0 0 -30 0 0 0 19.80" result="h"/><feComposite in="m" in2="h" operator="in" result="mh"/><feComposite in="mh" in2="SourceAlpha" operator="in"/></filter><filter id="fc2" filterUnits="userSpaceOnUse" x="220" y="1771" width="1626" height="695" color-interpolation-filters="sRGB"><feTurbulence type="fractalNoise" baseFrequency="0.35 0.12" numOctaves="2" seed="113" result="t1"/><feColorMatrix in="t1" values="1 0 0 0 0 1 0 0 0 0 1 0 0 0 0 0 0 0 0 1" result="n1"/><feTurbulence type="fractalNoise" baseFrequency="0.9 0.01" numOctaves="1" seed="112" result="t2"/><feColorMatrix in="t2" values="4 0 0 0 -2.4 4 0 0 0 -2.4 4 0 0 0 -2.4 0 0 0 0 1" result="n2"/><feComposite in="SourceGraphic" in2="n1" operator="arithmetic" k2="1" k3="1.2" k4="-0.6" result="v1"/><feComposite in="v1" in2="n2" operator="arithmetic" k2="1" k3="0.05" result="v"/><feComponentTransfer in="v" result="m"><feFuncR type="table" tableValues="0 0 0 0 0 0 0 0 0 0 0 0 0 0 0 0 0 0 0 0 0 0 0 0 0 0.063 0.125 0.188 0.251 0.314 0.376 0.439 0.502 0.561 0.624 0.686 0.749 0.812 0.875 0.937 1 1 1 1 1 1 1 1 1 1 1 1 1 1 1 1 1 0.937 0.875 0.812 0.749 0.686 0.624 0.561 0.502"/><feFuncG type="table" tableValues="0 0 0 0 0 0 0 0 0 0.063 0.125 0.188 0.251 0.314 0.376 0.439 0.502 0.561 0.624 0.686 0.749 0.812 0.875 0.937 1 1 1 1 1 1 1 1 1 1 1 1 1 1 1 1 1 0.937 0.875 0.812 0.749 0.686 0.624 0.561 0.502 0.439 0.376 0.314 0.251 0.188 0.125 0.063 0 0 0 0 0 0 0 0 0"/><feFuncB type="table" tableValues="0.502 0.561 0.624 0.686 0.749 0.812 0.875 0.937 1 1 1 1 1 1 1 1 1 1 1 1 1 1 1 1 1 0.937 0.875 0.812 0.749 0.686 0.624 0.561 0.502 0.439 0.376 0.314 0.251 0.188 0.125 0.063 0 0 0 0 0 0 0 0 0 0 0 0 0 0 0 0 0 0 0 0 0 0 0 0 0"/><feFuncA type="linear" slope="0" intercept="1"/></feComponentTransfer><feTurbulence type="fractalNoise" baseFrequency="0.3 0.45" numOctaves="1" seed="116" result="t3"/><feColorMatrix in="t3" values="0 0 0 0 0 0 0 0 0 0 0 0 0 0 0 -30 0 0 0 21.00" result="h"/><feComposite in="m" in2="h" operator="in" result="mh"/><feComposite in="mh" in2="SourceAlpha" operator="in"/></filter><filter id="fc3" filterUnits="userSpaceOnUse" x="220" y="1771" width="1626" height="695" color-interpolation-filters="sRGB"><feTurbulence type="fractalNoise" baseFrequency="0.35 0.12" numOctaves="2" seed="120" result="t1"/><feColorMatrix in="t1" values="1 0 0 0 0 1 0 0 0 0 1 0 0 0 0 0 0 0 0 1" result="n1"/><feTurbulence type="fractalNoise" baseFrequency="0.9 0.01" numOctaves="1" seed="117" result="t2"/><feColorMatrix in="t2" values="4 0 0 0 -2.4 4 0 0 0 -2.4 4 0 0 0 -2.4 0 0 0 0 1" result="n2"/><feComposite in="SourceGraphic" in2="n1" operator="arithmetic" k2="1" k3="0.12" k4="-0.06" result="v1"/><feComposite in="v1" in2="n2" operator="arithmetic" k2="1" k3="0.05" result="v"/><feComponentTransfer in="v" result="m"><feFuncR type="table" tableValues="0 0 0 0 0 0 0 0 0 0 0 0 0 0 0 0 0 0 0 0 0 0 0 0 0 0.063 0.125 0.188 0.251 0.314 0.376 0.439 0.502 0.561 0.624 0.686 0.749 0.812 0.875 0.937 1 1 1 1 1 1 1 1 1 1 1 1 1 1 1 1 1 0.937 0.875 0.812 0.749 0.686 0.624 0.561 0.502"/><feFuncG type="table" tableValues="0 0 0 0 0 0 0 0 0 0.063 0.125 0.188 0.251 0.314 0.376 0.439 0.502 0.561 0.624 0.686 0.749 0.812 0.875 0.937 1 1 1 1 1 1 1 1 1 1 1 1 1 1 1 1 1 0.937 0.875 0.812 0.749 0.686 0.624 0.561 0.502 0.439 0.376 0.314 0.251 0.188 0.125 0.063 0 0 0 0 0 0 0 0 0"/><feFuncB type="table" tableValues="0.502 0.561 0.624 0.686 0.749 0.812 0.875 0.937 1 1 1 1 1 1 1 1 1 1 1 1 1 1 1 1 1 0.937 0.875 0.812 0.749 0.686 0.624 0.561 0.502 0.439 0.376 0.314 0.251 0.188 0.125 0.063 0 0 0 0 0 0 0 0 0 0 0 0 0 0 0 0 0 0 0 0 0 0 0 0 0"/><feFuncA type="linear" slope="0" intercept="1"/></feComponentTransfer><feTurbulence type="fractalNoise" baseFrequency="0.3 0.45" numOctaves="1" seed="119" result="t3"/><feColorMatrix in="t3" values="0 0 0 0 0 0 0 0 0 0 0 0 0 0 0 -30 0 0 0 21.60" result="h"/><feComposite in="m" in2="h" operator="in" result="mh"/><feComposite in="mh" in2="SourceAlpha" operator="in"/></filter><filter id="fc4" filterUnits="userSpaceOnUse" x="220" y="1771" width="1626" height="695" color-interpolation-filters="sRGB"><feTurbulence type="fractalNoise" baseFrequency="0.35 0.12" numOctaves="2" seed="127" result="t1"/><feColorMatrix in="t1" values="1 0 0 0 0 1 0 0 0 0 1 0 0 0 0 0 0 0 0 1" result="n1"/><feTurbulence type="fractalNoise" baseFrequency="0.9 0.01" numOctaves="1" seed="122" result="t2"/><feColorMatrix in="t2" values="4 0 0 0 -2.4 4 0 0 0 -2.4 4 0 0 0 -2.4 0 0 0 0 1" result="n2"/><feComposite in="SourceGraphic" in2="n1" operator="arithmetic" k2="1" k3="1.1" k4="-0.55" result="v1"/><feComposite in="v1" in2="n2" operator="arithmetic" k2="1" k3="0.05" result="v"/><feComponentTransfer in="v" result="m"><feFuncR type="table" tableValues="0 0 0 0 0 0 0 0 0 0 0 0 0 0 0 0 0 0 0 0 0 0 0 0 0 0.063 0.125 0.188 0.251 0.314 0.376 0.439 0.502 0.561 0.624 0.686 0.749 0.812 0.875 0.937 1 1 1 1 1 1 1 1 1 1 1 1 1 1 1 1 1 0.937 0.875 0.812 0.749 0.686 0.624 0.561 0.502"/><feFuncG type="table" tableValues="0 0 0 0 0 0 0 0 0 0.063 0.125 0.188 0.251 0.314 0.376 0.439 0.502 0.561 0.624 0.686 0.749 0.812 0.875 0.937 1 1 1 1 1 1 1 1 1 1 1 1 1 1 1 1 1 0.937 0.875 0.812 0.749 0.686 0.624 0.561 0.502 0.439 0.376 0.314 0.251 0.188 0.125 0.063 0 0 0 0 0 0 0 0 0"/><feFuncB type="table" tableValues="0.502 0.561 0.624 0.686 0.749 0.812 0.875 0.937 1 1 1 1 1 1 1 1 1 1 1 1 1 1 1 1 1 0.937 0.875 0.812 0.749 0.686 0.624 0.561 0.502 0.439 0.376 0.314 0.251 0.188 0.125 0.063 0 0 0 0 0 0 0 0 0 0 0 0 0 0 0 0 0 0 0 0 0 0 0 0 0"/><feFuncA type="linear" slope="0" intercept="1"/></feComponentTransfer><feTurbulence type="fractalNoise" baseFrequency="0.45 0.08" numOctaves="1" seed="122" result="t3"/><feColorMatrix in="t3" values="0 0 0 0 0 0 0 0 0 0 0 0 0 0 0 -30 0 0 0 17.40" result="h"/><feComposite in="m" in2="h" operator="in" result="mh"/><feComposite in="mh" in2="SourceAlpha" operator="in"/></filter></defs>
<g filter="url(#fa0)"><path fill="rgb(9,9,9)" d="M1227 498h96v4h-96z"/><path fill="rgb(11,11,11)" d="M1463 502h96v5h-96z"/><path fill="rgb(12,12,12)" d="M1614 498h96v4h-96zM1665 646h91v4h-91zM1756 668h90v5h-90z"/><path fill="rgb(14,14,14)" d="M1747 98h99v5h-99zM786 255h82v5h-82zM1655 502h95v5h-95z"/><path fill="rgb(15,15,15)" d="M1559 502h96v5h-96z"/><path fill="rgb(16,16,16)" d="M1648 98h99v5h-99zM1746 107h100v5h-100zM1467 116h94v5h-94zM1747 125h99v5h-99zM712 260h80v4h-80zM603 502h95v5h-95zM1750 502h96v5h-96zM1178 507h78v4h-78zM1304 646h90v4h-90z"/><path fill="rgb(17,17,17)" d="M1656 116h95v5h-95zM1751 116h95v5h-95zM1451 125h98v5h-98zM1575 130h90v4h-90zM1394 646h91v4h-91zM1575 646h90v4h-90zM1214 695h90v5h-90zM1756 695h90v5h-90z"/><path fill="rgb(18,18,18)" d="M612 40h98v4h-98zM827 489h90v4h-90zM1123 677h91v5h-91z"/><path fill="rgb(19,19,19)" d="M1665 130h91v4h-91zM470 188h83v5h-83zM558 493h95v5h-95zM1081 502h95v5h-95zM1485 695h90v5h-90z"/><path fill="rgb(20,20,20)" d="M514 40h98v4h-98zM950 107h99v5h-99zM1214 130h90v4h-90zM553 188h83v5h-83zM854 188h89v5h-89zM368 493h95v5h-95zM890 502h95v5h-95zM1176 502h96v5h-96zM1272 502h96v5h-96zM1256 507h77v4h-77zM1485 677h90v5h-90zM890 718h95v4h-95zM985 718h96v4h-96z"/><path fill="rgb(21,21,21)" d="M220 40h98v4h-98zM1214 94h90v4h-90zM1154 125h99v5h-99zM1485 130h90v4h-90zM646 188h99v5h-99zM951 255h82v5h-82zM872 260h81v4h-81zM1033 646h90v4h-90zM1304 668h90v5h-90zM1575 668h90v5h-90z"/><path fill="rgb(22,22,22)" d="M710 40h98v4h-98zM1123 94h91v4h-91zM1323 498h97v4h-97zM1420 498h97v4h-97zM661 507h93v4h-93zM847 507h93v4h-93zM1410 507h78v4h-78zM1304 677h90v5h-90zM852 700h91v4h-91zM1655 709h95v4h-95z"/><path fill="rgb(23,23,23)" d="M759 125h98v5h-98zM1817 610h29v4h-29zM1123 646h91v4h-91zM1665 695h91v5h-91zM1463 709h96v4h-96zM1559 709h96v4h-96zM1750 718h96v4h-96z"/><path fill="rgb(24,24,24)" d="M416 40h98v4h-98zM1033 94h90v4h-90zM1575 94h90v4h-90zM1352 98h99v5h-99zM850 107h100v5h-100zM1448 107h99v5h-99zM1381 112h92v4h-92zM1565 112h92v4h-92zM1657 112h92v4h-92zM557 116h95v5h-95zM1710 121h68v4h-68zM1758 242h88v4h-88zM1756 260h90v4h-90zM1756 309h90v5h-90zM816 314h86v4h-86zM1665 363h91v5h-91zM1756 363h90v5h-90zM1756 412h90v5h-90zM1130 498h97v4h-97zM940 507h93v4h-93zM1752 511h94v5h-94zM1756 646h90v4h-90zM1394 668h91v5h-91zM1665 668h91v5h-91zM1304 695h90v5h-90zM507 709h96v4h-96zM1655 718h95v4h-95z"/><path fill="rgb(25,25,25)" d="M1655 53h95v5h-95zM1651 71h98v5h-98zM1253 98h99v5h-99zM742 112h93v4h-93zM561 125h99v5h-99zM943 188h90v5h-90zM631 260h81v4h-81zM792 260h80v4h-80zM1665 260h91v4h-91zM1614 264h106v5h-106zM1756 273h90v5h-90zM643 314h87v4h-87zM1665 341h91v4h-91zM1756 359h90v4h-90zM1749 462h97v4h-97zM843 493h95v5h-95zM1368 502h95v5h-95zM1655 529h95v5h-95zM1756 614h90v5h-90zM1756 637h90v4h-90zM1575 677h90v5h-90zM1756 677h90v5h-90zM672 691h90v4h-90zM762 691h90v4h-90zM1575 695h90v5h-90zM581 700h91v4h-91z"/><path fill="rgb(26,26,26)" d="M1655 67h95v4h-95zM759 98h98v5h-98zM747 116h96v5h-96zM1561 116h95v5h-95zM1304 130h90v4h-90zM1394 130h91v4h-91zM1750 139h96v4h-96zM1510 179h88v5h-88zM1575 291h90v5h-90zM1756 291h90v5h-90zM1756 305h90v4h-90zM1575 399h90v4h-90zM1575 417h90v4h-90zM1756 448h90v5h-90zM1756 480h90v4h-90zM653 493h95v5h-95zM748 493h95v5h-95zM1033 498h97v4h-97zM1756 520h90v5h-90zM1665 560h91v5h-91zM1665 614h91v5h-91zM1575 632h90v5h-90zM1575 650h90v5h-90zM1463 718h96v4h-96z"/><path fill="rgb(27,27,27)" d="M1747 62h99v5h-99zM1554 71h97v5h-97zM1749 71h97v5h-97zM1665 94h91v4h-91zM956 98h99v5h-99zM1756 130h90v4h-90zM1750 193h96v4h-96zM1575 206h90v4h-90zM1665 206h91v4h-91zM1647 219h99v5h-99zM1665 255h91v5h-91zM471 314h86v4h-86zM1485 394h90v5h-90zM1665 435h91v4h-91zM1756 489h90v4h-90zM1517 498h97v4h-97zM1485 516h90v4h-90zM1575 583h90v4h-90zM1778 587h68v5h-68zM1665 592h91v4h-91zM1485 628h90v4h-90zM1665 650h91v5h-91zM581 691h91v4h-91zM852 691h91v4h-91zM1033 695h90v5h-90zM1750 709h96v4h-96zM1647 713h100v5h-100z"/><path fill="rgb(28,28,28)" d="M1470 40h94v4h-94zM1492 76h88v4h-88zM1580 76h89v4h-89zM1248 107h100v5h-100zM929 112h93v4h-93zM660 125h99v5h-99zM1609 143h34v5h-34zM1368 166h95v4h-95zM1750 166h96v4h-96zM868 255h83v5h-83zM1304 255h90v5h-90zM1485 314h90v4h-90zM1756 327h90v5h-90zM1394 394h91v5h-91zM1394 480h91v4h-91zM1665 484h91v5h-91zM463 493h95v5h-95zM794 502h96v5h-96zM1485 538h90v5h-90zM1665 543h91v4h-91zM1672 596h87v5h-87zM1750 605h96v5h-96zM1485 668h90v5h-90zM1575 686h90v5h-90zM1756 691h90v4h-90zM491 700h90v4h-90zM1081 709h95v4h-95zM603 718h95v4h-95zM1176 718h96v4h-96z"/><path fill="rgb(29,29,29)" d="M1377 40h93v4h-93zM1756 94h90v4h-90zM1022 112h93v4h-93zM462 116h95v5h-95zM1752 143h94v5h-94zM1656 152h95v5h-95zM1750 161h96v5h-96zM1447 219h100v5h-100zM1746 219h100v5h-100zM1665 224h91v4h-91zM1368 251h95v4h-95zM1304 260h90v4h-90zM1748 269h98v4h-98zM1394 273h91v5h-91zM1575 296h90v4h-90zM1665 296h91v4h-91zM1756 296h90v4h-90zM1665 309h91v5h-91zM1493 354h88v5h-88zM1575 359h90v4h-90zM1665 368h91v4h-91zM1485 399h90v4h-90zM1398 421h94v5h-94zM1665 430h91v5h-91zM1485 435h90v4h-90zM1749 466h97v5h-97zM1304 480h90v4h-90zM411 502h96v5h-96zM1394 543h91v4h-91zM1410 596h88v5h-88zM1575 655h90v4h-90zM943 691h90v4h-90zM943 700h90v4h-90zM1575 700h90v4h-90zM316 709h95v4h-95zM1368 709h95v4h-95z"/><path fill="rgb(30,30,30)" d="M1564 40h94v4h-94zM1429 44h93v5h-93zM1757 76h89v4h-89zM1304 94h90v4h-90zM1549 98h99v5h-99zM555 112h94v4h-94zM1450 121h79v4h-79zM1352 125h99v5h-99zM1559 193h96v4h-96zM1463 202h96v4h-96zM1756 224h90v4h-90zM1669 242h89v4h-89zM1272 251h96v4h-96zM1665 273h91v5h-91zM1304 305h90v4h-90zM1394 305h91v4h-91zM1394 341h91v4h-91zM1812 408h34v4h-34zM1756 430h90v5h-90zM1665 480h91v4h-91zM1665 489h91v4h-91zM1333 507h77v4h-77zM1304 516h90v4h-90zM1575 516h90v4h-90zM1756 547h90v4h-90zM1756 551h90v5h-90zM1485 592h90v4h-90zM1655 605h95v5h-95zM1575 614h90v5h-90zM1485 646h90v4h-90zM1394 677h91v5h-91z"/><path fill="rgb(31,31,31)" d="M1185 49h95v4h-95zM1164 71h98v5h-98zM1359 71h97v5h-97zM651 107h99v5h-99zM1647 107h99v5h-99zM1154 112h106v4h-106zM938 121h95v4h-95zM1368 139h95v4h-95zM1751 152h95v5h-95zM1272 161h96v5h-96zM1655 161h95v5h-95zM1764 170h82v5h-82zM745 188h99v5h-99zM1081 202h95v4h-95zM1304 224h90v4h-90zM1649 246h98v5h-98zM1093 269h61v4h-61zM1485 273h90v5h-90zM1665 291h91v5h-91zM1485 309h90v5h-90zM1485 345h90v5h-90zM1304 399h90v4h-90zM1304 430h90v5h-90zM1575 430h90v5h-90zM1394 484h91v5h-91zM1575 489h90v4h-90zM273 493h95v5h-95zM316 502h95v5h-95zM698 502h96v5h-96zM985 502h96v5h-96zM1123 525h91v4h-91zM1123 543h91v4h-91zM1289 587h85v5h-85zM1304 650h90v5h-90zM1033 668h90v5h-90zM1123 673h91v4h-91zM1214 677h90v5h-90zM1214 691h90v4h-90zM1123 695h91v5h-91zM1349 713h99v5h-99zM1081 718h95v4h-95z"/><path fill="rgb(32,32,32)" d="M1657 49h95v4h-95zM1067 71h97v5h-97zM1669 76h88v4h-88zM1149 107h99v5h-99zM649 112h93v4h-93zM843 116h95v5h-95zM843 121h95v4h-95zM1778 121h68v4h-68zM1536 143h54v5h-54zM1033 188h90v5h-90zM1123 188h91v5h-91zM1575 188h90v5h-90zM1368 193h95v4h-95zM985 202h96v4h-96zM1655 202h95v4h-95zM1348 219h99v5h-99zM1451 246h99v5h-99zM704 255h82v5h-82zM1394 296h91v4h-91zM1758 354h88v5h-88zM1304 376h90v5h-90zM1394 376h91v5h-91zM1304 394h90v5h-90zM1394 399h91v4h-91zM1478 426h87v4h-87zM1756 435h90v4h-90zM938 493h95v5h-95zM1394 520h91v5h-91zM1081 529h95v5h-95zM1750 529h96v5h-96zM1033 538h90v5h-90zM1394 538h91v5h-91zM1033 543h90v4h-90zM1033 583h90v4h-90zM1236 596h87v5h-87zM1081 605h95v5h-95zM1559 605h96v5h-96zM1304 632h90v5h-90zM220 646h51v4h-51zM1304 655h90v4h-90zM762 700h90v4h-90zM1214 700h90v4h-90zM1665 700h91v4h-91zM1756 700h90v4h-90zM985 709h96v4h-96zM698 718h96v4h-96z"/><path fill="rgb(33,33,33)" d="M1684 35h81v5h-81zM1752 40h94v4h-94zM1390 85h91v4h-91zM1485 94h90v4h-90zM1547 107h100v5h-100zM1372 116h95v5h-95zM652 121h95v4h-95zM1529 121h79v4h-79zM1253 125h99v5h-99zM1549 125h99v5h-99zM1467 152h94v5h-94zM1681 170h83v5h-83zM1168 175h97v4h-97zM303 188h83v5h-83zM386 188h84v5h-84zM1559 202h96v4h-96zM1485 206h90v4h-90zM1033 224h90v4h-90zM1352 246h99v5h-99zM1176 251h96v4h-96zM1214 255h90v5h-90zM953 260h80v4h-80zM1650 269h98v4h-98zM1665 314h91v4h-91zM1394 327h91v5h-91zM1575 363h90v5h-90zM1394 368h91v4h-91zM1304 417h90v4h-90zM1575 448h90v5h-90zM1652 462h97v4h-97zM1394 475h91v5h-91zM1485 475h90v5h-90zM467 489h90v4h-90zM647 489h90v4h-90zM737 489h90v4h-90zM754 507h93v4h-93zM1176 529h96v5h-96zM1323 596h87v5h-87zM1368 605h95v5h-95zM1551 610h75v4h-75zM1214 614h90v5h-90zM1304 614h90v5h-90zM1123 655h91v4h-91zM1214 673h90v4h-90zM1665 677h91v5h-91zM310 691h91v4h-91zM310 700h91v4h-91zM794 709h96v4h-96zM1368 718h95v4h-95z"/><path fill="rgb(34,34,34)" d="M890 53h95v5h-95zM1368 53h95v5h-95zM1750 53h96v5h-96zM794 67h96v4h-96zM1262 71h97v5h-97zM1456 71h98v5h-98zM1039 76h91v4h-91zM879 80h94v5h-94zM660 98h99v5h-99zM750 107h100v5h-100zM1608 121h78v4h-78zM1648 125h99v5h-99zM911 143h96v5h-96zM1176 161h96v5h-96zM805 170h98v5h-98zM905 184h94v4h-94zM1188 184h94v4h-94zM1564 184h94v4h-94zM1756 188h90v5h-90zM794 193h96v4h-96zM1547 219h100v5h-100zM1394 255h91v5h-91zM1485 255h90v5h-90zM1412 264h95v5h-95zM1756 336h90v5h-90zM1485 372h90v4h-90zM1665 390h91v4h-91zM943 417h90v4h-90zM852 426h91v4h-91zM1304 466h77v5h-77zM1665 475h91v5h-91zM943 498h90v4h-90zM1376 511h94v5h-94zM1394 516h91v4h-91zM890 529h95v5h-95zM1485 543h90v4h-90zM1214 560h90v5h-90zM1304 560h90v5h-90zM1033 587h85v5h-85zM1168 601h68v4h-68zM1756 632h90v5h-90zM1033 637h90v4h-90zM1575 637h90v4h-90zM1394 686h91v5h-91zM1394 695h91v5h-91zM1304 700h90v4h-90zM1150 713h99v5h-99z"/><path fill="rgb(35,35,35)" d="M997 49h94v4h-94zM1463 53h96v5h-96zM1253 62h99v5h-99zM1451 62h98v5h-98zM734 89h86v5h-86zM1394 94h91v4h-91zM1473 112h92v4h-92zM462 125h99v5h-99zM852 134h91v5h-91zM1272 139h96v4h-96zM890 161h95v5h-95zM1463 166h96v4h-96zM894 179h96v5h-96zM1658 184h94v4h-94zM1272 193h96v4h-96zM1368 202h95v4h-95zM943 237h90v5h-90zM1223 264h95v5h-95zM1231 269h88v4h-88zM1485 296h90v4h-90zM1485 305h90v4h-90zM557 314h86v4h-86zM730 314h86v4h-86zM1756 314h90v4h-90zM1665 336h91v5h-91zM1665 372h91v4h-91zM1756 417h90v4h-90zM1575 453h90v4h-90zM1304 475h90v5h-90zM568 507h93v4h-93zM1485 525h90v4h-90zM1214 538h90v5h-90zM1203 587h86v5h-86zM1123 592h91v4h-91zM1665 628h91v4h-91zM1394 637h91v4h-91zM1214 646h90v4h-90zM1756 650h90v5h-90zM1304 686h90v5h-90zM1176 709h96v4h-96zM220 718h96v4h-96z"/><path fill="rgb(36,36,36)" d="M1243 44h93v5h-93zM1299 85h91v4h-91zM649 89h85v5h-85zM1198 89h101v5h-101zM1451 98h98v5h-98zM937 103h96v4h-96zM938 116h95v5h-95zM747 121h96v4h-96zM857 125h99v5h-99zM890 139h95v4h-95zM806 148h87v4h-87zM698 161h96v5h-96zM1559 166h96v4h-96zM1655 166h95v4h-95zM708 170h97v5h-97zM1214 188h90v5h-90zM1665 188h91v5h-91zM1753 210h93v5h-93zM1463 251h96v4h-96zM1033 260h90v4h-90zM1394 309h91v5h-91zM1485 327h90v5h-90zM1485 336h90v5h-90zM1665 345h91v5h-91zM1304 412h90v5h-90zM1665 417h91v4h-91zM1565 426h87v4h-87zM1575 475h90v5h-90zM1304 484h90v5h-90zM1282 511h94v5h-94zM1575 520h90v5h-90zM1033 525h90v4h-90zM1756 525h90v4h-90zM1559 529h96v5h-96zM1204 556h86v4h-86zM1575 560h90v5h-90zM1123 583h91v4h-91zM1575 592h90v4h-90zM890 605h95v5h-95zM1033 614h90v5h-90zM1033 632h90v5h-90zM1394 632h91v5h-91zM1665 632h91v5h-91zM1123 664h91v4h-91zM401 691h90v4h-90zM1123 691h91v4h-91zM698 709h96v4h-96zM1272 709h96v4h-96zM1249 713h100v5h-100zM1559 718h96v4h-96z"/><path fill="rgb(37,37,37)" d="M884 40h75v4h-75zM660 62h99v5h-99zM1352 62h99v5h-99zM728 71h82v5h-82zM938 94h95v4h-95zM1055 98h99v5h-99zM1348 107h100v5h-100zM1289 112h92v4h-92zM1372 121h78v4h-78zM956 125h99v5h-99zM1123 130h91v4h-91zM603 139h95v4h-95zM720 143h96v5h-96zM1199 143h95v5h-95zM1657 143h95v5h-95zM893 148h87v4h-87zM1561 152h95v5h-95zM794 161h96v5h-96zM1081 161h95v5h-95zM985 166h96v4h-96zM1176 166h96v4h-96zM1272 166h96v4h-96zM1000 170h98v5h-98zM1749 175h97v4h-97zM605 179h96v5h-96zM623 184h94v4h-94zM1304 206h90v4h-90zM1394 206h91v4h-91zM943 219h90v5h-90zM1123 224h91v4h-91zM958 246h98v5h-98zM1155 246h99v5h-99zM794 251h96v4h-96zM985 251h96v4h-96zM1394 260h91v4h-91zM1485 341h90v4h-90zM1575 341h90v4h-90zM1304 359h90v4h-90zM1485 359h90v4h-90zM1304 368h90v4h-90zM1575 376h90v5h-90zM944 421h89v5h-89zM672 426h90v4h-90zM943 426h90v4h-90zM1304 426h87v4h-87zM1662 426h92v4h-92zM1485 448h90v5h-90zM1652 466h97v5h-97zM557 489h90v4h-90zM507 502h96v5h-96zM1188 511h94v5h-94zM1756 516h90v4h-90zM1304 547h90v4h-90zM1665 547h91v4h-91zM1304 551h90v5h-90zM1214 583h90v4h-90zM1214 664h90v4h-90zM491 691h90v4h-90zM1272 718h96v4h-96z"/><path fill="rgb(38,38,38)" d="M1603 35h81v5h-81zM318 40h98v4h-98zM1403 76h89v4h-89zM690 80h95v5h-95zM462 112h93v4h-93zM491 134h90v5h-90zM561 175h85v4h-85zM701 179h96v5h-96zM1422 179h88v5h-88zM999 184h94v4h-94zM1470 184h94v4h-94zM220 188h83v5h-83zM1655 193h95v4h-95zM1123 255h91v5h-91zM1575 305h90v4h-90zM1304 336h90v5h-90zM1304 341h90v4h-90zM1756 341h90v4h-90zM1581 354h88v5h-88zM1756 368h90v4h-90zM1485 412h90v5h-90zM1394 430h91v5h-91zM1304 453h90v4h-90zM1394 453h91v4h-91zM1756 475h90v5h-90zM1304 489h90v4h-90zM1033 551h90v5h-90zM1118 587h85v5h-85zM1585 596h87v5h-87zM1033 601h68v4h-68zM1463 605h96v5h-96zM1123 628h91v4h-91zM1214 632h90v5h-90zM1033 655h90v4h-90zM1665 655h91v4h-91zM1304 664h90v4h-90zM1214 668h90v5h-90zM220 673h51v4h-51zM1665 686h91v5h-91zM1033 691h90v4h-90zM852 695h91v5h-91z"/><path fill="rgb(39,39,39)" d="M1125 40h85v4h-85zM1752 49h94v4h-94zM402 76h91v4h-91zM675 76h91v4h-91zM1314 76h89v4h-89zM408 80h94v5h-94zM857 98h99v5h-99zM651 103h95v4h-95zM1055 125h99v5h-99zM1559 139h96v4h-96zM318 170h97v5h-97zM513 170h97v5h-97zM1362 175h97v4h-97zM1752 184h94v4h-94zM1272 202h96v4h-96zM1394 224h91v4h-91zM581 237h91v5h-91zM943 242h90v4h-90zM1123 260h91v4h-91zM1357 269h98v4h-98zM1665 305h91v4h-91zM385 314h86v4h-86zM1669 354h89v5h-89zM1575 368h90v4h-90zM1665 376h91v5h-91zM1304 390h90v4h-90zM1665 394h91v5h-91zM1756 394h90v5h-90zM1665 412h91v5h-91zM762 417h90v4h-90zM1665 448h91v5h-91zM1485 489h90v4h-90zM1214 547h90v4h-90zM1374 587h85v5h-85zM1394 628h91v4h-91zM1214 655h90v4h-90zM1033 664h90v4h-90zM1033 677h90v5h-90zM220 691h90v4h-90zM1575 691h90v4h-90zM1665 691h91v4h-91zM1548 713h99v5h-99z"/><path fill="rgb(40,40,40)" d="M1658 40h94v4h-94zM778 44h93v5h-93zM1469 49h94v4h-94zM985 67h96v4h-96zM1368 67h95v4h-95zM766 76h91v4h-91zM617 85h68v4h-68zM1154 98h99v5h-99zM301 116h80v5h-80zM794 139h96v4h-96zM1377 143h72v5h-72zM903 170h97v5h-97zM811 184h94v4h-94zM1176 193h96v4h-96zM698 202h96v4h-96zM1033 206h90v4h-90zM581 219h91v5h-91zM672 219h90v5h-90zM1672 228h87v5h-87zM1750 251h96v4h-96zM1033 255h90v5h-90zM1575 314h90v4h-90zM1485 368h90v4h-90zM1394 372h91v4h-91zM1575 372h90v4h-90zM1485 376h90v5h-90zM1756 390h90v4h-90zM855 421h89v5h-89zM1665 453h91v4h-91zM1575 480h90v4h-90zM1470 511h94v5h-94zM1564 511h94v5h-94zM1123 551h91v5h-91zM1485 551h90v5h-90zM1756 583h90v4h-90zM1101 601h67v4h-67zM1485 632h90v5h-90zM1123 668h91v5h-91zM1575 673h90v4h-90zM1123 686h91v5h-91zM1485 691h90v4h-90zM762 695h90v5h-90zM1448 713h100v5h-100z"/><path fill="rgb(41,41,41)" d="M1559 53h96v5h-96zM698 67h96v4h-96zM1463 67h96v4h-96zM1559 67h96v4h-96zM857 76h91v4h-91zM948 76h91v4h-91zM561 98h99v5h-99zM1049 107h100v5h-100zM652 116h95v5h-95zM1033 130h90v4h-90zM220 134h90v5h-90zM411 139h96v4h-96zM1655 139h95v4h-95zM1103 143h96v5h-96zM1559 161h96v5h-96zM1265 175h97v4h-97zM1749 179h97v5h-97zM1176 202h96v4h-96zM1473 210h93v5h-93zM491 219h90v5h-90zM1485 224h90v4h-90zM1655 233h95v4h-95zM672 237h90v5h-90zM1575 237h90v5h-90zM672 242h90v4h-90zM563 246h98v5h-98zM1394 336h91v5h-91zM1575 336h90v5h-90zM1394 363h91v5h-91zM1575 385h90v5h-90zM1575 394h90v5h-90zM676 421h89v5h-89zM1586 421h94v5h-94zM1754 426h92v4h-92zM1802 439h44v5h-44zM1485 453h90v4h-90zM1368 529h95v5h-95zM1665 538h91v5h-91zM1123 560h91v5h-91zM507 605h96v5h-96zM1575 641h90v5h-90zM1394 655h91v4h-91zM1756 655h90v4h-90zM1485 686h90v5h-90zM1304 691h90v4h-90zM1033 700h90v4h-90zM603 709h95v4h-95zM1051 713h99v5h-99z"/><path fill="rgb(42,42,42)" d="M1210 40h84v4h-84zM1091 49h94v4h-94zM1755 85h91v4h-91zM843 94h95v4h-95zM835 112h94v4h-94zM462 121h95v4h-95zM985 139h96v4h-96zM220 143h63v5h-63zM411 166h96v4h-96zM603 166h95v4h-95zM1195 170h98v5h-98zM509 179h96v5h-96zM797 179h97v5h-97zM1485 188h90v5h-90zM316 193h95v4h-95zM507 193h96v4h-96zM581 242h91v4h-91zM1493 242h88v4h-88zM890 251h95v4h-95zM1575 309h90v5h-90zM1665 359h91v4h-91zM1485 363h90v5h-90zM1756 376h90v5h-90zM1485 390h90v4h-90zM1756 399h90v4h-90zM1812 403h34v5h-34zM1680 421h93v5h-93zM1394 448h91v5h-91zM220 502h96v5h-96zM1658 511h94v5h-94zM1214 516h90v4h-90zM1485 520h90v5h-90zM1665 520h91v5h-91zM1394 525h91v4h-91zM1665 525h91v4h-91zM1575 543h90v4h-90zM1462 556h85v4h-85zM1756 560h90v5h-90zM1750 565h96v4h-96zM1665 583h91v4h-91zM698 605h96v5h-96zM1665 637h91v4h-91zM1123 650h91v5h-91zM672 695h90v5h-90zM890 709h95v4h-95zM794 718h96v4h-96z"/><path fill="rgb(43,43,43)" d="M808 49h94v4h-94zM890 67h95v4h-95zM220 76h91v4h-91zM314 80h94v5h-94zM462 98h99v5h-99zM507 139h96v4h-96zM1390 170h98v5h-98zM1517 170h82v5h-82zM305 175h85v4h-85zM1246 179h88v5h-88zM1598 179h88v5h-88zM1394 188h91v5h-91zM890 193h95v4h-95zM220 202h96v4h-96zM1750 202h96v4h-96zM1214 206h90v4h-90zM1756 206h90v4h-90zM510 228h87v5h-87zM1550 246h99v5h-99zM411 251h96v4h-96zM1575 260h90v4h-90zM1575 273h90v5h-90zM1304 296h90v4h-90zM1304 314h90v4h-90zM1665 327h91v5h-91zM1304 372h90v4h-90zM365 421h34v5h-34zM1304 421h94v5h-94zM1214 520h90v5h-90zM1575 538h90v5h-90zM1756 538h90v5h-90zM1756 543h90v4h-90zM1575 547h90v4h-90zM1394 551h91v5h-91zM1665 551h91v5h-91zM1498 596h87v5h-87zM1759 596h87v5h-87zM1123 614h91v5h-91zM1485 614h90v5h-90zM1756 619h90v4h-90zM1756 628h90v4h-90zM1485 637h90v4h-90zM1485 650h90v5h-90zM1665 664h91v4h-91zM1756 664h90v4h-90zM1033 673h90v4h-90zM1665 673h91v4h-91zM1033 686h90v5h-90zM401 700h90v4h-90zM672 700h90v4h-90zM1485 700h90v4h-90zM978 704h91v5h-91zM607 713h97v5h-97z"/><path fill="rgb(44,44,44)" d="M1559 31h96v4h-96zM499 44h93v5h-93zM964 44h93v5h-93zM1280 49h94v4h-94zM220 67h96v4h-96zM411 67h96v4h-96zM1081 67h95v4h-95zM1750 67h96v4h-96zM973 80h94v5h-94zM462 85h10v4h-10zM1033 85h85v4h-85zM1664 85h91v4h-91zM391 89h86v5h-86zM581 134h91v5h-91zM603 161h95v5h-95zM415 170h98v5h-98zM1098 170h97v5h-97zM1556 175h96v4h-96zM1652 175h97v4h-97zM1101 179h34v5h-34zM1173 179h63v5h-63zM1334 179h88v5h-88zM1304 188h90v5h-90zM890 202h95v4h-95zM491 237h90v5h-90zM316 251h95v4h-95zM1128 264h95v5h-95zM1756 385h90v5h-90zM1665 399h91v4h-91zM1492 421h94v5h-94zM1394 435h91v4h-91zM1304 448h90v5h-90zM1575 484h90v5h-90zM1756 484h90v5h-90zM672 498h90v4h-90zM762 498h90v4h-90zM1304 520h90v5h-90zM1575 525h90v4h-90zM507 529h96v5h-96zM1214 543h90v4h-90zM1119 556h85v4h-85zM1427 574h83v4h-83zM1750 578h96v5h-96zM1272 605h96v5h-96zM1756 641h90v5h-90zM1756 673h90v4h-90zM943 695h90v5h-90zM951 713h100v5h-100z"/><path fill="rgb(45,45,45)" d="M1655 31h95v4h-95zM1374 49h95v4h-95zM759 62h98v5h-98zM316 67h95v4h-95zM1272 67h96v4h-96zM549 85h68v4h-68zM1481 85h92v4h-92zM563 89h86v5h-86zM557 121h95v4h-95zM1372 152h95v5h-95zM890 166h95v4h-95zM610 170h98v5h-98zM1599 170h82v5h-82zM852 219h91v5h-91zM1575 224h90v4h-90zM597 228h88v5h-88zM685 228h87v5h-87zM1236 228h87v5h-87zM859 246h99v5h-99zM1747 246h99v5h-99zM1655 251h95v4h-95zM1485 260h90v4h-90zM1318 264h94v5h-94zM1575 327h90v5h-90zM1304 345h90v5h-90zM1756 345h90v5h-90zM1649 350h98v4h-98zM1747 350h99v4h-99zM1394 359h91v4h-91zM1214 372h90v4h-90zM1756 372h90v4h-90zM1575 390h90v4h-90zM1575 412h90v5h-90zM491 417h90v4h-90zM1214 417h90v4h-90zM1394 417h91v4h-91zM498 421h89v5h-89zM1756 453h90v4h-90zM1381 466h78v5h-78zM985 529h96v5h-96zM1304 538h90v5h-90zM1123 547h91v4h-91zM1394 547h91v4h-91zM1394 560h91v5h-91zM1485 560h90v5h-90zM1272 569h96v5h-96zM1750 569h96v5h-96zM1343 574h84v4h-84zM1756 592h90v4h-90zM1394 614h91v5h-91zM1033 650h90v5h-90zM1485 664h90v4h-90zM1394 673h91v4h-91zM1756 686h90v5h-90zM411 709h96v4h-96zM1747 713h99v5h-99zM411 718h96v4h-96z"/><path fill="rgb(46,46,46)" d="M1272 31h96v4h-96zM1765 35h81v5h-81zM959 40h76v4h-76zM1035 40h75v4h-75zM871 44h93v5h-93zM1563 49h94v4h-94zM698 53h96v5h-96zM1081 53h95v5h-95zM857 62h99v5h-99zM1549 62h99v5h-99zM554 71h92v5h-92zM762 134h90v5h-90zM507 161h96v5h-96zM1293 170h97v5h-97zM1459 175h97v4h-97zM1282 184h94v4h-94zM1379 210h94v5h-94zM1566 210h93v5h-93zM1659 210h94v5h-94zM1655 215h95v4h-95zM220 237h90v5h-90zM1559 251h96v4h-96zM1756 255h90v5h-90zM1304 273h90v5h-90zM1123 314h91v4h-91zM1304 327h90v5h-90zM1394 345h91v5h-91zM1352 350h99v4h-99zM1091 368h71v4h-71zM1665 385h91v5h-91zM491 426h90v4h-90zM1123 475h91v5h-91zM1665 516h91v4h-91zM1033 520h90v5h-90zM1123 520h91v5h-91zM220 529h96v5h-96zM316 529h95v5h-95zM603 529h95v5h-95zM1033 547h90v4h-90zM1575 551h90v5h-90zM1376 556h86v4h-86zM1176 569h96v5h-96zM1463 578h96v5h-96zM1485 583h90v4h-90zM220 605h96v5h-96zM411 605h96v5h-96zM1575 628h90v4h-90zM1214 650h90v5h-90zM1485 655h90v4h-90zM1575 664h90v4h-90zM1160 704h91v5h-91zM510 713h97v5h-97zM316 718h95v4h-95zM507 718h96v4h-96z"/><path fill="rgb(47,47,47)" d="M1176 31h96v4h-96zM220 44h93v5h-93zM1150 44h93v5h-93zM462 62h99v5h-99zM1648 62h99v5h-99zM462 71h92v5h-92zM785 80h94v5h-94zM1764 157h82v4h-82zM1368 161h95v5h-95zM1463 161h96v5h-96zM220 166h96v4h-96zM507 166h96v4h-96zM1093 184h95v4h-95zM220 219h90v5h-90zM401 219h90v5h-90zM1269 219h79v5h-79zM1057 228h107v5h-107zM1665 237h91v5h-91zM1033 242h92v4h-92zM1581 242h88v4h-88zM507 251h96v4h-96zM1575 255h90v5h-90zM1304 291h90v5h-90zM1394 291h91v5h-91zM1485 291h90v5h-90zM1233 368h71v4h-71zM1033 376h90v5h-90zM1394 390h91v4h-91zM1214 421h90v5h-90zM310 426h91v4h-91zM1485 430h90v5h-90zM1485 484h90v5h-90zM1033 493h73v5h-73zM1214 525h90v4h-90zM1272 529h96v5h-96zM1123 538h91v5h-91zM1304 543h90v4h-90zM1547 556h86v4h-86zM1033 560h90v5h-90zM603 605h95v5h-95zM1626 610h75v4h-75zM1123 637h91v4h-91zM1394 650h91v5h-91zM1394 691h91v4h-91zM581 695h91v5h-91zM1123 700h91v4h-91zM220 713h97v5h-97z"/><path fill="rgb(48,48,48)" d="M985 31h96v4h-96zM1522 35h81v5h-81zM985 53h96v5h-96zM1272 53h96v5h-96zM507 67h96v4h-96zM864 71h77v5h-77zM311 76h91v4h-91zM596 80h94v5h-94zM1118 85h84v4h-84zM1573 85h91v4h-91zM462 94h95v4h-95zM401 134h90v5h-90zM1463 139h96v4h-96zM1449 143h73v5h-73zM839 175h78v4h-78zM1463 193h96v4h-96zM1759 228h87v5h-87zM1033 237h90v5h-90zM1394 237h91v5h-91zM491 242h90v4h-90zM220 246h116v5h-116zM365 246h99v5h-99zM1254 246h98v5h-98zM1553 269h97v4h-97zM1123 291h91v5h-91zM1159 296h72v4h-72zM1394 314h91v4h-91zM1205 327h99v5h-99zM1141 341h82v4h-82zM1223 341h81v4h-81zM1575 345h90v5h-90zM1394 385h91v5h-91zM672 417h90v4h-90zM401 426h90v4h-90zM1391 426h87v4h-87zM1575 435h90v4h-90zM1459 466h77v5h-77zM1485 480h90v4h-90zM1394 489h91v4h-91zM1033 516h90v4h-90zM411 529h96v5h-96zM1463 529h96v5h-96zM1485 547h90v4h-90zM1290 556h86v4h-86zM1033 574h85v4h-85zM1394 583h91v4h-91zM1304 592h90v4h-90zM1394 592h91v4h-91zM1304 619h90v4h-90zM1304 628h90v4h-90zM1214 637h90v4h-90zM1304 637h90v4h-90zM1485 673h90v4h-90zM614 704h91v5h-91zM317 713h97v5h-97z"/><path fill="rgb(49,49,49)" d="M406 44h93v5h-93zM411 53h96v5h-96zM794 53h96v5h-96zM477 89h86v5h-86zM381 116h81v5h-81zM301 130h80v4h-80zM1176 139h96v4h-96zM341 143h63v5h-63zM985 161h96v5h-96zM975 175h97v4h-97zM1286 210h93v5h-93zM890 215h95v4h-95zM1081 215h95v4h-95zM762 237h90v5h-90zM852 237h91v5h-91zM1756 237h90v5h-90zM1401 242h92v4h-92zM1455 269h98v4h-98zM910 394h98v5h-98zM1008 394h99v5h-99zM310 417h91v4h-91zM1485 417h90v4h-90zM1214 435h90v4h-90zM1493 462h43v4h-43zM1304 525h90v4h-90zM1176 565h96v4h-96zM1204 574h85v4h-85zM1304 583h90v4h-90zM1214 628h90v4h-90zM1123 632h91v5h-91zM1394 700h91v4h-91zM1069 704h91v5h-91zM220 709h96v4h-96z"/><path fill="rgb(50,50,50)" d="M902 49h95v4h-95zM1055 62h99v5h-99zM1154 62h99v5h-99zM603 67h95v4h-95zM584 76h91v4h-91zM1137 76h89v4h-89zM381 130h81v4h-81zM672 134h90v5h-90zM1033 157h73v4h-73zM316 166h95v4h-95zM1072 175h96v4h-96zM341 184h94v4h-94zM435 184h94v4h-94zM1376 184h94v4h-94zM411 202h96v4h-96zM1368 215h95v4h-95zM852 242h91v4h-91zM1214 260h90v4h-90zM1033 314h90v4h-90zM1008 345h99v5h-99zM811 412h99v5h-99zM1394 412h91v5h-91zM220 417h90v4h-90zM1123 417h91v4h-91zM409 421h89v5h-89zM1033 435h90v4h-90zM1235 453h69v4h-69zM709 466h99v5h-99zM1033 484h90v5h-90zM310 498h91v4h-91zM698 529h96v5h-96zM1214 551h90v5h-90zM1559 565h96v4h-96zM1118 574h86v4h-86zM1678 574h84v4h-84zM1176 605h96v5h-96zM852 610h91v4h-91zM1033 628h90v4h-90zM1575 659h90v5h-90zM1394 664h91v4h-91zM310 695h91v5h-91zM220 700h90v4h-90zM887 704h91v5h-91z"/><path fill="rgb(51,51,51)" d="M794 31h96v4h-96zM685 44h93v5h-93zM1057 44h93v5h-93zM1336 44h93v5h-93zM301 121h80v4h-80zM381 121h81v4h-81zM529 143h95v5h-95zM1007 143h96v5h-96zM990 179h96v5h-96zM220 193h96v4h-96zM985 193h96v4h-96zM760 246h99v5h-99zM603 251h95v4h-95zM1304 309h90v5h-90zM979 341h81v4h-81zM958 350h98v4h-98zM1304 363h90v5h-90zM1304 435h90v4h-90zM762 457h90v5h-90zM943 457h90v5h-90zM1205 466h99v5h-99zM1033 475h90v5h-90zM1123 484h91v5h-91zM401 498h90v4h-90zM1123 516h91v4h-91zM943 538h90v5h-90zM1033 556h86v4h-86zM1081 565h95v4h-95zM1368 565h95v4h-95zM1214 592h90v4h-90zM1214 619h90v4h-90zM1304 673h90v4h-90zM1214 686h90v5h-90zM401 695h90v5h-90zM491 695h90v5h-90zM796 704h91v5h-91zM414 713h96v5h-96z"/><path fill="rgb(52,52,52)" d="M956 62h99v5h-99zM1176 67h96v4h-96zM1226 76h88v4h-88zM752 85h68v4h-68zM842 103h95v4h-95zM220 116h81v5h-81zM310 134h91v5h-91zM1081 139h95v4h-95zM1401 157h92v4h-92zM220 170h98v5h-98zM476 175h85v4h-85zM529 184h94v4h-94zM717 184h94v4h-94zM220 197h90v5h-90zM603 202h95v4h-95zM1193 210h93v5h-93zM1272 215h96v4h-96zM310 219h91v5h-91zM1214 224h90v4h-90zM946 228h87v5h-87zM1498 228h87v5h-87zM1463 233h96v4h-96zM220 251h96v4h-96zM1008 305h99v4h-99zM943 323h90v4h-90zM614 327h99v5h-99zM614 336h99v5h-99zM811 336h99v5h-99zM1205 336h99v5h-99zM614 345h99v5h-99zM661 350h99v4h-99zM1155 350h99v4h-99zM943 354h90v5h-90zM1123 363h91v5h-91zM1123 372h91v4h-91zM1123 385h91v5h-91zM811 394h99v5h-99zM757 534h92v4h-92zM762 538h90v5h-90zM985 565h96v4h-96zM1655 565h95v4h-95zM1559 569h96v5h-96zM705 704h91v5h-91zM752 713h100v5h-100z"/><path fill="rgb(53,53,53)" d="M1368 31h95v4h-95zM1750 31h96v4h-96zM808 40h76v4h-76zM313 44h93v5h-93zM316 53h95v5h-95zM1176 53h96v5h-96zM1118 116h84v5h-84zM698 139h96v4h-96zM816 143h95v5h-95zM1493 157h92v4h-92zM411 161h96v5h-96zM1081 166h95v4h-95zM1081 193h95v4h-95zM1123 206h91v4h-91zM852 210h90v5h-90zM859 228h87v5h-87zM698 233h96v4h-96zM794 233h96v4h-96zM401 237h90v5h-90zM1304 237h90v5h-90zM1309 242h92v4h-92zM464 246h99v5h-99zM1056 246h99v5h-99zM1081 251h95v4h-95zM1033 264h95v5h-95zM1033 269h60v4h-60zM1123 273h91v5h-91zM1214 273h90v5h-90zM516 305h98v4h-98zM811 305h99v4h-99zM734 332h100v4h-100zM1033 359h90v4h-90zM614 394h99v5h-99zM1205 394h99v5h-99zM1008 412h99v5h-99zM1205 412h99v5h-99zM581 417h91v4h-91zM852 417h91v4h-91zM1033 426h90v4h-90zM1123 435h91v4h-91zM341 489h63v4h-63zM491 498h90v4h-90zM941 534h92v4h-92zM794 569h96v5h-96zM1655 569h95v5h-95zM1272 578h96v5h-96zM1368 578h95v5h-95zM1033 592h90v4h-90zM1665 619h91v4h-91zM1304 659h90v5h-90zM341 704h91v5h-91zM852 713h99v5h-99z"/><path fill="rgb(54,54,54)" d="M507 31h96v4h-96zM592 44h93v5h-93zM220 53h96v5h-96zM381 107h81v5h-81zM624 143h96v5h-96zM685 175h77v4h-77zM412 179h97v5h-97zM1750 215h96v4h-96zM1585 228h87v5h-87zM1559 233h96v4h-96zM310 242h91v4h-91zM661 246h99v5h-99zM943 264h90v5h-90zM1033 273h90v5h-90zM581 323h91v4h-91zM834 332h99v4h-99zM1451 350h99v4h-99zM401 354h90v5h-90zM1162 368h71v4h-71zM910 412h98v5h-98zM1106 466h99v5h-99zM401 538h90v5h-90zM581 538h91v5h-91zM852 560h91v5h-91zM1510 574h84v4h-84zM603 578h95v5h-95zM985 605h96v5h-96zM581 610h91v4h-91zM1485 641h90v5h-90zM1214 659h90v5h-90zM1485 659h90v5h-90z"/><path fill="rgb(55,55,55)" d="M381 58h81v4h-81zM380 85h38v4h-38zM746 103h96v4h-96zM943 134h90v5h-90zM316 161h95v5h-95zM390 175h86v4h-86zM762 175h77v4h-77zM316 179h96v5h-96zM794 202h96v4h-96zM491 206h90v4h-90zM852 206h91v4h-91zM762 219h90v5h-90zM1190 219h79v5h-79zM943 224h90v4h-90zM404 264h90v5h-90zM852 296h91v4h-91zM910 305h98v4h-98zM1008 309h99v5h-99zM1107 309h98v5h-98zM319 336h98v5h-98zM581 354h91v5h-91zM587 421h89v5h-89zM220 426h90v4h-90zM762 426h90v4h-90zM675 462h89v4h-89zM852 498h91v4h-91zM794 529h96v5h-96zM310 538h91v5h-91zM1463 565h96v4h-96zM507 569h96v5h-96zM985 569h96v5h-96zM776 574h92v4h-92zM794 578h96v5h-96zM794 605h96v5h-96zM1730 623h116v5h-116zM1304 641h90v5h-90zM1394 641h91v5h-91z"/><path fill="rgb(56,56,56)" d="M1081 31h95v4h-95zM507 53h96v5h-96zM306 89h85v5h-85zM747 94h96v4h-96zM1125 157h92v4h-92zM1217 157h92v4h-92zM1599 157h82v4h-82zM794 166h96v4h-96zM220 206h90v4h-90zM943 206h90v4h-90zM942 210h91v5h-91zM316 215h95v4h-95zM794 215h96v4h-96zM1176 215h96v4h-96zM772 228h87v5h-87zM1485 237h90v5h-90zM762 242h90v4h-90zM853 264h90v5h-90zM672 282h90v5h-90zM491 287h90v4h-90zM1214 291h90v5h-90zM811 309h99v5h-99zM220 341h83v4h-83zM1033 372h90v4h-90zM401 417h90v4h-90zM765 421h90v5h-90zM1214 426h90v4h-90zM404 489h63v4h-63zM581 498h91v4h-91zM581 560h91v5h-91zM316 578h95v5h-95zM1214 641h90v5h-90zM220 704h39v5h-39zM523 704h91v5h-91z"/><path fill="rgb(57,57,57)" d="M301 58h80v4h-80zM561 62h99v5h-99zM493 76h91v4h-91zM1202 116h85v5h-85zM1287 116h85v5h-85zM381 125h81v5h-81zM698 166h96v4h-96zM698 193h96v4h-96zM507 202h96v4h-96zM580 210h91v5h-91zM671 210h90v5h-90zM852 224h91v4h-91zM603 233h95v4h-95zM1750 233h96v4h-96zM1125 242h92v4h-92zM698 251h96v4h-96zM510 255h97v5h-97zM310 282h91v5h-91zM762 287h90v4h-90zM1205 305h99v4h-99zM1214 314h90v4h-90zM1060 341h81v4h-81zM220 345h99v5h-99zM491 354h90v5h-90zM319 412h98v5h-98zM516 412h98v5h-98zM1123 421h91v5h-91zM581 426h91v4h-91zM1033 430h90v5h-90zM310 560h91v5h-91zM220 569h96v5h-96zM672 610h90v4h-90zM1123 619h91v4h-91zM1394 619h91v4h-91zM1756 659h90v5h-90zM220 668h51v5h-51zM220 695h90v5h-90zM432 704h91v5h-91z"/><path fill="rgb(58,58,58)" d="M316 31h95v4h-95zM603 53h95v5h-95zM220 71h80v5h-80zM557 94h95v4h-95zM652 94h95v4h-95zM220 98h81v5h-81zM220 121h81v4h-81zM301 125h80v5h-80zM220 139h96v4h-96zM316 202h95v4h-95zM1123 237h91v5h-91zM1214 237h90v5h-90zM584 264h90v5h-90zM220 282h90v5h-90zM852 287h91v4h-91zM1231 296h73v4h-73zM417 305h99v4h-99zM614 309h99v5h-99zM220 327h99v5h-99zM811 327h99v5h-99zM470 341h83v4h-83zM811 345h99v5h-99zM365 350h99v4h-99zM760 350h99v4h-99zM1214 359h90v4h-90zM1123 376h91v5h-91zM417 394h99v5h-99zM220 412h99v5h-99zM220 421h116v5h-116zM1214 430h90v5h-90zM854 462h89v4h-89zM907 466h99v5h-99zM1162 489h71v4h-71zM1081 569h95v5h-95zM316 605h95v5h-95zM1485 619h90v4h-90z"/><path fill="rgb(59,59,59)" d="M698 31h96v4h-96zM220 80h94v5h-94zM502 80h94v5h-94zM322 85h34v4h-34zM220 89h86v5h-86zM220 107h81v5h-81zM381 112h81v4h-81zM1033 116h85v5h-85zM433 143h96v5h-96zM220 161h96v5h-96zM411 193h96v4h-96zM603 193h95v4h-95zM1463 215h96v4h-96zM1272 233h96v4h-96zM401 242h90v4h-90zM762 282h90v5h-90zM401 287h90v4h-90zM614 305h99v4h-99zM220 309h99v5h-99zM516 309h98v5h-98zM220 323h90v4h-90zM336 332h100v4h-100zM898 341h81v4h-81zM1214 363h90v5h-90zM1033 385h90v5h-90zM1214 385h90v5h-90zM614 412h99v5h-99zM510 466h100v5h-100zM808 466h99v5h-99zM1219 480h85v4h-85zM220 538h90v5h-90zM1575 619h90v4h-90z"/><path fill="rgb(60,60,60)" d="M890 31h95v4h-95zM220 58h81v4h-81zM300 71h80v5h-80zM399 210h91v5h-91zM672 224h90v4h-90zM1323 228h87v5h-87zM890 233h95v4h-95zM310 237h91v5h-91zM1217 242h92v4h-92zM220 260h87v4h-87zM220 287h90v4h-90zM310 287h91v4h-91zM220 296h90v4h-90zM581 296h91v4h-91zM762 296h90v4h-90zM635 332h99v4h-99zM1008 336h99v5h-99zM1107 336h98v5h-98zM713 412h98v5h-98zM1165 453h70v4h-70zM220 457h90v5h-90zM610 466h99v5h-99zM220 498h90v4h-90zM665 534h92v4h-92zM316 565h95v4h-95zM794 565h96v4h-96zM1272 565h96v4h-96zM1762 574h84v4h-84zM1176 578h96v5h-96z"/><path fill="rgb(61,61,61)" d="M1463 31h96v4h-96zM220 112h81v4h-81zM301 112h80v4h-80zM220 179h96v5h-96zM310 197h89v5h-89zM761 210h91v5h-91zM581 224h91v4h-91zM1368 233h95v4h-95zM414 255h96v5h-96zM910 309h98v5h-98zM310 323h91v4h-91zM1008 327h99v5h-99zM1159 390h72v4h-72zM852 457h91v5h-91zM1214 475h90v5h-90zM1594 574h84v4h-84zM890 578h95v5h-95zM1033 619h90v4h-90zM1665 659h91v5h-91z"/><path fill="rgb(62,62,62)" d="M220 94h81v4h-81zM301 107h80v5h-80zM220 130h81v4h-81zM316 139h95v4h-95zM1681 157h83v4h-83zM220 224h90v4h-90zM762 224h90v4h-90zM1176 233h96v4h-96zM220 242h90v4h-90zM581 282h91v5h-91zM672 323h90v4h-90zM436 332h99v4h-99zM910 336h98v5h-98zM713 345h98v5h-98zM1550 350h99v4h-99zM310 354h91v5h-91zM1485 385h90v5h-90zM319 394h98v5h-98zM1107 412h98v5h-98zM1123 448h91v5h-91zM1096 453h69v4h-69zM491 457h90v5h-90zM1091 489h71v4h-71zM1233 489h71v4h-71zM943 560h90v5h-90zM698 565h96v4h-96zM890 565h95v4h-95zM411 569h96v5h-96zM890 569h95v5h-95zM1463 569h96v5h-96zM507 578h96v5h-96zM985 578h96v5h-96zM1665 641h91v5h-91zM1394 659h91v5h-91z"/><path fill="rgb(63,63,63)" d="M220 31h96v4h-96zM249 85h48v4h-48zM1309 157h92v4h-92zM220 175h85v4h-85zM507 215h96v4h-96zM1559 215h96v4h-96zM1410 228h88v5h-88zM985 233h96v4h-96zM307 260h87v4h-87zM852 282h91v5h-91zM943 282h90v5h-90zM417 309h99v5h-99zM516 327h98v5h-98zM1254 350h98v4h-98zM1057 390h39v4h-39zM1033 421h90v5h-90zM1123 430h91v5h-91zM581 457h91v5h-91zM423 462h87v4h-87zM1006 466h100v5h-100zM1214 484h90v5h-90zM573 534h92v4h-92zM849 534h92v4h-92zM1559 578h96v5h-96zM1655 578h95v5h-95z"/><path fill="rgb(64,64,64)" d="M603 31h95v4h-95zM672 287h90v4h-90zM1107 305h98v4h-98zM535 332h100v4h-100zM933 332h100v4h-100zM516 345h98v5h-98zM1033 448h90v5h-90zM1214 448h90v5h-90zM220 560h90v5h-90zM313 574h92v4h-92zM220 610h90v4h-90zM943 610h90v4h-90z"/><path fill="rgb(65,65,65)" d="M698 215h96v4h-96zM401 282h90v5h-90zM1205 309h99v5h-99zM1107 327h98v5h-98zM386 341h84v4h-84zM1107 345h98v5h-98zM762 354h90v5h-90zM1033 363h90v5h-90zM1033 417h90v4h-90zM764 462h90v4h-90zM943 462h90v4h-90zM1135 480h84v4h-84z"/><path fill="rgb(66,66,66)" d="M943 296h90v4h-90zM713 305h98v4h-98zM401 323h90v4h-90zM417 336h99v5h-99zM859 350h99v4h-99zM1214 376h90v5h-90zM1304 385h90v5h-90zM1214 399h90v4h-90zM1123 426h91v4h-91zM401 560h90v5h-90zM603 569h95v5h-95zM1368 569h95v5h-95zM1033 659h90v5h-90z"/><path fill="rgb(67,67,67)" d="M672 206h90v4h-90zM401 296h90v4h-90zM1056 350h99v4h-99zM220 354h90v5h-90zM1231 390h73v4h-73zM516 394h98v5h-98zM1107 394h98v5h-98zM1033 399h90v4h-90zM1123 399h91v4h-91zM307 462h97v4h-97zM411 565h96v4h-96zM411 578h96v5h-96zM1033 641h90v5h-90zM1123 659h91v5h-91z"/><path fill="rgb(68,68,68)" d="M411 31h96v4h-96zM985 215h96v4h-96zM1033 219h79v5h-79zM310 224h91v4h-91zM1081 233h95v4h-95zM674 264h89v5h-89zM410 269h96v4h-96zM1086 296h73v4h-73zM762 323h90v4h-90zM723 341h54v4h-54zM1205 345h99v5h-99zM1123 359h91v4h-91zM297 534h92v4h-92zM491 538h90v5h-90zM672 560h90v5h-90zM698 569h96v5h-96zM1081 578h95v5h-95zM220 637h51v4h-51zM1123 641h91v5h-91z"/><path fill="rgb(69,69,69)" d="M603 215h95v4h-95zM1112 219h78v5h-78zM491 282h90v5h-90zM1033 291h90v5h-90zM220 305h99v4h-99zM319 305h98v4h-98zM910 327h98v5h-98zM713 336h98v5h-98zM303 341h83v4h-83zM852 354h91v5h-91zM220 394h99v5h-99zM852 538h91v5h-91z"/><path fill="rgb(70,70,70)" d="M301 98h80v5h-80zM762 206h90v4h-90zM411 215h96v4h-96zM491 224h90v4h-90zM763 264h90v5h-90zM943 287h90v4h-90zM319 309h98v5h-98zM516 336h98v5h-98zM553 341h83v4h-83zM910 345h98v5h-98zM310 457h91v5h-91zM498 574h93v4h-93zM591 574h92v4h-92zM762 610h90v4h-90z"/><path fill="rgb(71,71,71)" d="M301 94h80v4h-80zM672 296h90v4h-90zM852 323h91v4h-91zM713 327h98v5h-98zM319 345h98v5h-98zM417 345h99v5h-99zM464 350h99v4h-99zM713 394h98v5h-98zM417 412h99v5h-99zM401 457h90v5h-90zM491 560h90v5h-90zM762 560h90v5h-90z"/><path fill="rgb(72,72,72)" d="M310 206h91v4h-91zM220 215h96v4h-96zM481 260h87v4h-87zM581 287h91v4h-91zM713 309h98v5h-98zM672 354h90v5h-90zM603 565h95v4h-95zM698 578h96v5h-96z"/><path fill="rgb(73,73,73)" d="M401 206h90v4h-90zM581 206h91v4h-91zM316 233h95v4h-95zM411 233h96v4h-96zM607 255h97v5h-97zM394 260h87v4h-87zM220 269h95v4h-95zM563 350h98v4h-98zM672 457h90v5h-90zM672 538h90v5h-90zM220 565h96v4h-96zM507 565h96v4h-96zM220 574h93v4h-93zM683 574h93v4h-93z"/><path fill="rgb(74,74,74)" d="M490 210h90v5h-90zM401 224h90v4h-90zM494 264h90v5h-90zM491 296h90v4h-90zM491 323h90v4h-90zM607 462h5v4h-5zM491 610h90v4h-90z"/><path fill="rgb(75,75,75)" d="M381 98h81v5h-81zM220 125h81v5h-81zM507 233h96v4h-96zM220 462h63v4h-63zM389 534h92v4h-92zM481 534h92v4h-92zM405 574h93v4h-93z"/><path fill="rgb(76,76,76)" d="M381 94h81v4h-81zM317 255h97v5h-97zM315 269h95v4h-95zM319 327h98v5h-98zM417 327h99v5h-99zM220 336h99v5h-99zM220 578h96v5h-96z"/><path fill="rgb(77,77,77)" d="M220 233h96v4h-96zM310 296h91v4h-91zM316 569h95v5h-95zM310 610h91v4h-91zM401 610h90v4h-90z"/><path fill="rgb(78,78,78)" d="M220 255h97v5h-97z"/></g><g filter="url(#fa1)"><path fill="rgb(55,55,55)" d="M1750 381h96v4h-96z"/><path fill="rgb(59,59,59)" d="M1559 381h96v4h-96zM1559 444h96v4h-96z"/><path fill="rgb(60,60,60)" d="M1655 381h95v4h-95z"/><path fill="rgb(61,61,61)" d="M1304 457h90v5h-90zM1750 471h96v4h-96z"/><path fill="rgb(62,62,62)" d="M1304 282h90v5h-90zM1463 381h96v4h-96z"/><path fill="rgb(63,63,63)" d="M1033 152h85v5h-85zM943 368h90v4h-90zM1750 444h96v4h-96z"/><path fill="rgb(64,64,64)" d="M1485 282h90v5h-90zM1665 282h91v5h-91zM1337 287h76v4h-76zM890 381h95v4h-95zM890 444h95v4h-95zM941 592h92v4h-92z"/><path fill="rgb(65,65,65)" d="M943 157h90v4h-90zM852 376h91v5h-91zM939 399h94v4h-94z"/><path fill="rgb(66,66,66)" d="M1118 152h84v5h-84zM1287 152h85v5h-85zM1655 471h95v4h-95zM943 480h90v4h-90zM762 556h90v4h-90zM665 592h92v4h-92z"/><path fill="rgb(67,67,67)" d="M1202 152h85v5h-85zM943 430h90v5h-90zM1665 457h91v5h-91zM1081 471h95v4h-95zM1272 471h96v4h-96z"/><path fill="rgb(68,68,68)" d="M672 372h90v4h-90zM1463 444h96v4h-96zM581 480h91v4h-91zM762 547h90v4h-90zM849 592h92v4h-92zM491 614h90v5h-90z"/><path fill="rgb(69,69,69)" d="M401 157h90v4h-90zM938 278h95v4h-95zM1575 282h90v5h-90zM581 359h91v4h-91zM672 368h90v4h-90zM491 376h90v5h-90zM507 381h96v4h-96zM1368 381h95v4h-95zM603 444h95v4h-95zM1655 444h95v4h-95zM1485 457h90v5h-90zM1756 457h90v5h-90zM762 614h90v5h-90z"/><path fill="rgb(70,70,70)" d="M1287 121h85v4h-85zM672 157h90v4h-90zM762 368h90v4h-90zM581 372h91v4h-91zM762 376h90v5h-90zM772 390h87v4h-87zM698 444h96v4h-96zM762 448h90v5h-90zM852 475h91v5h-91zM391 587h85v5h-85z"/><path fill="rgb(71,71,71)" d="M1118 121h84v4h-84zM220 157h90v4h-90zM1756 282h90v5h-90zM1260 287h77v4h-77zM1176 381h96v4h-96zM377 399h93v4h-93zM581 430h91v5h-91zM510 435h97v4h-97zM1272 444h96v4h-96zM1394 457h91v5h-91zM507 471h96v4h-96zM762 543h90v4h-90zM310 547h91v4h-91zM943 547h90v4h-90zM220 556h90v4h-90zM486 587h76v5h-76zM801 587h77v5h-77z"/><path fill="rgb(72,72,72)" d="M1202 121h85v4h-85zM491 273h90v5h-90zM1489 287h76v4h-76zM672 385h90v5h-90zM414 435h96v4h-96zM607 435h97v4h-97zM767 435h116v4h-116zM985 444h96v4h-96zM1214 457h90v5h-90zM1575 457h90v5h-90zM672 475h90v5h-90zM310 543h91v4h-91zM220 551h90v5h-90zM452 592h73v4h-73zM401 614h90v5h-90zM220 628h48v4h-48z"/><path fill="rgb(73,73,73)" d="M301 62h80v5h-80zM852 359h91v4h-91zM310 372h91v4h-91zM685 390h87v4h-87zM411 444h96v4h-96zM794 444h96v4h-96zM1368 444h95v4h-95zM1368 471h95v4h-95zM310 475h91v5h-91zM943 475h90v5h-90z"/><path fill="rgb(74,74,74)" d="M220 368h90v4h-90zM491 372h90v4h-90zM852 385h91v5h-91zM859 453h87v4h-87zM411 471h96v4h-96zM890 471h95v4h-95zM762 475h90v5h-90zM852 614h91v5h-91z"/><path fill="rgb(75,75,75)" d="M381 62h81v5h-81zM557 278h95v4h-95zM1214 282h90v5h-90zM672 376h90v5h-90zM220 381h96v4h-96zM564 399h94v4h-94zM491 430h90v5h-90zM985 435h48v4h-48zM985 471h96v4h-96zM1559 471h96v4h-96zM581 551h91v5h-91zM380 592h72v4h-72zM573 596h95v5h-95zM220 659h51v5h-51z"/><path fill="rgb(76,76,76)" d="M310 157h91v4h-91zM762 157h90v4h-90zM1413 287h76v4h-76zM310 376h91v5h-91zM411 381h96v4h-96zM1272 381h96v4h-96zM467 390h82v4h-82zM1176 444h96v4h-96zM672 448h90v5h-90zM1463 471h96v4h-96zM491 475h90v5h-90zM310 556h91v4h-91z"/><path fill="rgb(77,77,77)" d="M943 273h90v5h-90zM1394 282h91v5h-91zM316 381h95v4h-95zM946 390h87v4h-87zM401 430h90v5h-90zM401 547h90v4h-90zM581 547h91v4h-91zM943 551h90v5h-90zM878 587h78v5h-78zM220 632h51v5h-51zM220 682h51v4h-51z"/><path fill="rgb(78,78,78)" d="M1033 121h85v4h-85zM762 385h90v5h-90zM310 480h91v4h-91zM581 543h91v4h-91zM310 614h91v5h-91zM672 614h90v5h-90z"/><path fill="rgb(79,79,79)" d="M1033 282h90v5h-90zM762 359h90v4h-90zM401 368h90v4h-90zM852 368h91v4h-91zM581 376h91v5h-91zM1081 381h95v4h-95zM220 385h90v5h-90zM401 448h90v5h-90zM316 471h95v4h-95zM794 471h96v4h-96zM943 543h90v4h-90zM401 556h90v4h-90z"/><path fill="rgb(80,80,80)" d="M581 157h91v4h-91zM1123 282h91v5h-91zM491 368h90v4h-90zM762 372h90v4h-90zM762 430h90v5h-90zM316 444h95v4h-95zM1081 444h95v4h-95zM1033 457h90v5h-90zM640 520h93v5h-93zM672 551h90v5h-90zM956 587h77v5h-77z"/><path fill="rgb(81,81,81)" d="M220 273h90v5h-90zM310 273h91v5h-91zM462 278h95v4h-95zM943 359h90v4h-90zM943 372h90v4h-90zM943 376h90v5h-90zM794 381h96v4h-96zM943 385h90v5h-90zM852 430h91v5h-91zM491 448h90v5h-90zM852 448h91v5h-91zM946 453h87v4h-87zM547 520h93v5h-93zM491 547h90v4h-90zM672 547h90v4h-90zM491 556h90v4h-90zM715 587h76v5h-76zM757 592h92v4h-92z"/><path fill="rgb(82,82,82)" d="M852 273h91v5h-91zM401 359h90v4h-90zM220 372h90v4h-90zM985 381h96v4h-96zM470 399h94v4h-94zM507 444h96v4h-96zM1176 471h96v4h-96zM852 480h91v4h-91zM220 547h90v4h-90zM852 547h91v4h-91zM943 556h90v4h-90z"/><path fill="rgb(83,83,83)" d="M672 273h90v5h-90zM310 359h91v4h-91zM581 385h91v5h-91zM943 448h90v5h-90zM1123 457h91v5h-91zM220 475h90v5h-90zM401 543h90v4h-90zM852 551h91v5h-91zM852 556h91v4h-91zM573 592h92v4h-92zM220 655h51v4h-51z"/><path fill="rgb(84,84,84)" d="M762 273h90v5h-90zM310 368h91v4h-91zM852 372h91v4h-91zM698 381h96v4h-96zM752 399h93v4h-93zM845 399h94v4h-94zM581 448h91v5h-91zM603 471h95v4h-95zM698 471h96v4h-96zM491 543h90v4h-90zM943 614h90v5h-90z"/><path fill="rgb(85,85,85)" d="M491 157h90v4h-90zM852 157h91v4h-91zM581 273h91v5h-91zM747 278h96v4h-96zM401 385h90v5h-90zM859 390h87v4h-87zM658 399h94v4h-94zM310 430h91v5h-91zM672 430h90v5h-90zM672 480h90v4h-90zM268 520h93v5h-93zM401 551h90v5h-90zM562 587h77v5h-77zM668 596h94v5h-94z"/><path fill="rgb(86,86,86)" d="M385 390h82v4h-82zM581 475h91v5h-91zM220 480h90v4h-90zM762 480h90v4h-90zM852 543h91v4h-91zM581 556h91v4h-91zM672 556h90v4h-90zM220 587h85v5h-85zM581 614h91v5h-91z"/><path fill="rgb(87,87,87)" d="M843 278h95v4h-95zM581 368h91v4h-91zM603 381h95v4h-95zM310 385h91v5h-91zM491 385h90v5h-90zM597 390h88v4h-88zM283 399h94v4h-94zM220 435h97v4h-97zM361 520h93v5h-93zM672 543h90v4h-90zM491 551h90v5h-90zM762 551h90v5h-90z"/><path fill="rgb(88,88,88)" d="M491 359h90v4h-90zM220 376h90v5h-90zM220 390h82v4h-82zM220 430h90v5h-90zM220 444h96v4h-96zM220 448h90v5h-90zM401 475h90v5h-90zM491 480h90v4h-90zM220 543h90v4h-90zM639 587h76v5h-76z"/><path fill="rgb(89,89,89)" d="M220 62h81v5h-81zM652 278h95v4h-95zM672 359h90v4h-90zM317 435h97v4h-97zM220 471h96v4h-96zM454 520h93v5h-93zM220 614h90v5h-90z"/><path fill="rgb(90,90,90)" d="M401 273h90v5h-90zM401 372h90v4h-90zM401 376h90v5h-90zM401 480h90v4h-90z"/><path fill="rgb(91,91,91)" d="M220 359h90v4h-90zM310 448h91v5h-91z"/><path fill="rgb(92,92,92)" d="M302 390h83v4h-83zM310 551h91v5h-91z"/><path fill="rgb(93,93,93)" d="M305 587h86v5h-86z"/><path fill="rgb(203,203,203)" d="M762 596h271v5h-271z"/></g><g filter="url(#fa2)"><path fill="rgb(81,81,81)" d="M220 278h242v4h-242z"/><path fill="rgb(83,83,83)" d="M1033 462h460v4h-460z"/><path fill="rgb(86,86,86)" d="M1686 121h24v4h-24z"/><path fill="rgb(90,90,90)" d="M1168 623h562v5h-562z"/><path fill="rgb(95,95,95)" d="M220 408h1592v4h-1592z"/><path fill="rgb(97,97,97)" d="M404 143h29v5h-29zM220 623h286v5h-286zM535 623h498v5h-498z"/><path fill="rgb(98,98,98)" d="M1033 354h145v5h-145z"/><path fill="rgb(99,99,99)" d="M380 71h82v5h-82z"/><path fill="rgb(103,103,103)" d="M220 439h1582v5h-1582z"/><path fill="rgb(110,110,110)" d="M249 403h1563v5h-1563z"/><path fill="rgb(111,111,111)" d="M283 143h58v5h-58z"/><path fill="rgb(127,127,127)" d="M1507 264h107v5h-107z"/><path fill="rgb(139,139,139)" d="M1590 507h67v4h-67z"/><path fill="rgb(220,220,220)" d="M1033 596h203v5h-203z"/><path fill="rgb(226,226,226)" d="M220 350h145v4h-145z"/></g><g filter="url(#fa3)"><path fill="rgb(254,254,254)" d="M428 596h24v5h-24z"/><path fill="rgb(255,255,255)" d="M220 596h121v5h-121zM370 596h53v5h-53z"/></g>
<rect x="220" y="507.4" width="1626" height="3.2" fill="#000"/>
<path d="M220 253.1h16M1846 253.1h-16" stroke="#262626" stroke-width="2"/>
<text x="198" y="273.1" font-size="56" fill="#262626" text-anchor="end">50</text>
<path d="M220 477.5h16M1846 477.5h-16" stroke="#262626" stroke-width="2"/>
<text x="198" y="497.5" font-size="56" fill="#262626" text-anchor="end">100</text>
<path d="M220 701.8h16M1846 701.8h-16" stroke="#262626" stroke-width="2"/>
<text x="198" y="721.8" font-size="56" fill="#262626" text-anchor="end">150</text>
<rect x="220" y="31" width="1626" height="691" fill="none" stroke="#262626" stroke-width="2.4"/>
<text x="0" y="0" font-size="57" fill="#262626" text-anchor="middle" transform="translate(74 376.5) rotate(-90)">Stations from north to south</text>
<rect x="1876" y="107" width="64" height="616" fill="url(#jet)" stroke="#262626" stroke-width="2"/>
<path d="M1940 107h-8" stroke="#262626" stroke-width="2"/>
<text x="1961" y="125.5" font-size="51" fill="#262626">3</text>
<path d="M1940 218.6h-8" stroke="#262626" stroke-width="2"/>
<text x="1961" y="237.1" font-size="51" fill="#262626">2.5</text>
<path d="M1940 328.8h-8" stroke="#262626" stroke-width="2"/>
<text x="1961" y="347.3" font-size="51" fill="#262626">2</text>
<path d="M1940 439h-8" stroke="#262626" stroke-width="2"/>
<text x="1961" y="457.5" font-size="51" fill="#262626">1.5</text>
<path d="M1940 550h-8" stroke="#262626" stroke-width="2"/>
<text x="1961" y="568.5" font-size="51" fill="#262626">1</text>
<path d="M1940 660h-8" stroke="#262626" stroke-width="2"/>
<text x="1961" y="678.5" font-size="51" fill="#262626">0.5</text>
<text x="1862" y="81.0" font-size="51" fill="#000">mm</text>
<text x="1056" y="839" font-size="58" fill="#000" text-anchor="middle" style="font-family:'Liberation Serif',serif">(<tspan font-weight="bold">a</tspan>)</text>
<g filter="url(#fb0)"><path fill="rgb(56,56,56)" d="M1769 1375h77v5h-77z"/><path fill="rgb(57,57,57)" d="M1715 922h131v4h-131z"/><path fill="rgb(61,61,61)" d="M1493 1326h353v4h-353zM1246 1564h600v4h-600z"/><path fill="rgb(62,62,62)" d="M1227 980h522v5h-522zM1749 1057h97v4h-97zM1246 1119h600v5h-600zM1459 1227h387v5h-387zM1773 1290h73v4h-73zM1381 1438h465v4h-465z"/><path fill="rgb(63,63,63)" d="M1522 913h324v4h-324zM1314 953h532v5h-532zM1459 1164h387v5h-387zM1420 1236h426v5h-426z"/><path fill="rgb(64,64,64)" d="M1033 967h813v4h-813zM555 1012h207v4h-207zM1546 1034h300v5h-300zM1202 1128h644v5h-644zM1459 1285h358v5h-358zM1778 1348h68v5h-68zM1502 1505h344v5h-344zM1323 1550h523v5h-523z"/><path fill="rgb(65,65,65)" d="M1033 1057h644v4h-644zM1498 1070h348v5h-348zM1348 1088h498v4h-498zM1459 1267h387v5h-387zM1493 1321h353v5h-353zM1323 1510h523v4h-523z"/><path fill="rgb(66,66,66)" d="M762 1133h271v4h-271zM1652 1218h194v5h-194zM1459 1232h387v4h-387zM1657 1294h189v5h-189zM1348 1447h498v4h-498zM1454 1469h392v5h-392z"/><path fill="rgb(67,67,67)" d="M1715 904h131v4h-131zM715 1128h47v5h-47zM1614 1209h232v5h-232zM1454 1442h392v5h-392zM1323 1546h523v4h-523z"/><path fill="rgb(68,68,68)" d="M1459 1160h387v4h-387zM1459 1263h387v4h-387zM1686 1465h160v4h-160zM1323 1523h523v5h-523zM1594 1541h252v5h-252z"/><path fill="rgb(69,69,69)" d="M1522 908h324v5h-324zM1067 940h779v4h-779zM1314 962h532v5h-532zM1033 998h813v5h-813zM555 1007h249v5h-249zM1749 1083h97v5h-97zM1686 1460h160v5h-160z"/><path fill="rgb(70,70,70)" d="M1715 917h131v5h-131zM1159 994h687v4h-687zM1086 1169h760v4h-760zM1183 1344h402v4h-402zM1604 1487h242v5h-242zM1241 1582h605v4h-605zM1033 1591h813v4h-813z"/><path fill="rgb(71,71,71)" d="M542 940h220v4h-220zM461 971h301v5h-301zM1033 1200h813v5h-813zM1633 1223h213v4h-213zM1459 1258h387v5h-387zM1459 1272h387v4h-387z"/><path fill="rgb(72,72,72)" d="M1159 989h687v5h-687zM1546 1030h300v4h-300zM1498 1079h348v4h-348zM1657 1146h189v5h-189zM1420 1241h426v4h-426zM1604 1312h131v5h-131zM1323 1519h523v4h-523z"/><path fill="rgb(73,73,73)" d="M447 985h586v4h-586zM1381 1025h465v5h-465zM1086 1196h760v4h-760zM1604 1330h126v5h-126zM1372 1492h474v4h-474zM1246 1573h600v4h-600z"/><path fill="rgb(74,74,74)" d="M1033 944h813v5h-813zM1202 1124h644v4h-644zM1657 1142h189v4h-189zM1652 1214h194v4h-194zM1817 1416h29v4h-29z"/><path fill="rgb(75,75,75)" d="M1217 1048h629v4h-629z"/><path fill="rgb(76,76,76)" d="M671 953h91v5h-91zM1227 976h619v4h-619zM1217 1052h629v5h-629zM1222 1380h624v4h-624zM1246 1568h600v5h-600z"/></g><g filter="url(#fb2)"><path fill="rgb(108,108,108)" d="M488 1133h81v4h-81zM1241 1254h605v4h-605zM1585 1344h261v4h-261zM1381 1362h329v4h-329z"/><path fill="rgb(109,109,109)" d="M718 962h44v5h-44zM1236 1043h610v5h-610zM1294 1178h552v4h-552zM1323 1528h523v4h-523z"/><path fill="rgb(110,110,110)" d="M461 998h572v5h-572zM1372 1012h474v4h-474zM1236 1097h610v4h-610zM423 1178h610v4h-610zM1323 1514h523v5h-523z"/><path fill="rgb(111,111,111)" d="M461 1003h572v4h-572zM491 1137h498v5h-498zM1256 1160h203v4h-203zM1086 1173h760v5h-760zM1096 1236h324v5h-324zM1101 1420h745v4h-745zM1459 1451h387v5h-387z"/><path fill="rgb(112,112,112)" d="M650 908h92v5h-92zM1019 940h14v4h-14zM461 994h572v4h-572zM511 1048h136v4h-136zM762 1061h271v5h-271zM1033 1066h813v4h-813zM772 1083h203v5h-203zM396 1101h518v5h-518zM1101 1146h556v5h-556zM1159 1263h300v4h-300zM1227 1272h232v4h-232zM1323 1501h179v4h-179z"/><path fill="rgb(113,113,113)" d="M1033 917h261v5h-261zM1377 917h145v5h-145zM1033 976h194v4h-194zM1377 1007h469v5h-469zM1081 1034h465v5h-465zM975 1048h58v4h-58zM1033 1079h465v4h-465zM1517 1092h329v5h-329zM389 1110h373v5h-373zM904 1200h129v5h-129zM1081 1245h765v5h-765zM1323 1505h179v5h-179z"/><path fill="rgb(114,114,114)" d="M1067 935h779v5h-779zM535 962h149v5h-149zM684 1048h237v4h-237zM762 1142h227v4h-227z"/><path fill="rgb(115,115,115)" d="M1033 962h281v5h-281zM667 1070h183v5h-183zM532 1191h372v5h-372zM1217 1433h460v5h-460zM1241 1586h605v5h-605z"/><path fill="rgb(116,116,116)" d="M809 922h224v4h-224zM762 971h271v5h-271zM921 1101h112v5h-112zM1173 1303h673v5h-673z"/><path fill="rgb(117,117,117)" d="M867 908h166v5h-166zM630 1133h132v4h-132zM1159 1258h300v5h-300zM1662 1389h184v4h-184z"/><path fill="rgb(118,118,118)" d="M1033 904h682v4h-682zM1227 1267h232v5h-232zM1178 1281h639v4h-639zM1207 1326h150v4h-150z"/><path fill="rgb(119,119,119)" d="M1091 1088h257v4h-257z"/><path fill="rgb(120,120,120)" d="M762 953h271v5h-271zM1372 1016h474v5h-474zM694 1254h68v4h-68zM1580 1339h266v5h-266z"/><path fill="rgb(121,121,121)" d="M1091 1353h755v4h-755zM1222 1384h624v5h-624z"/><path fill="rgb(122,122,122)" d="M762 940h247v4h-247zM396 1070h261v5h-261zM853 1070h180v5h-180zM1101 1151h745v4h-745z"/></g><g filter="url(#fb3)"><path fill="rgb(247,247,247)" d="M220 994h241v4h-241z"/><path fill="rgb(248,248,248)" d="M962 1025h71v5h-71zM1026 1285h104v5h-104zM969 1398h64v4h-64zM220 1510h51v4h-51zM220 1559h51v5h-51z"/><path fill="rgb(249,249,249)" d="M447 1012h108v4h-108zM1022 1012h11v4h-11zM1033 1124h169v4h-169zM1013 1214h20v4h-20zM464 1348h518v5h-518zM1188 1380h34v4h-34zM975 1411h58v5h-58zM230 1451h24v5h-24zM220 1582h281v4h-281z"/><path fill="rgb(250,250,250)" d="M220 953h163v5h-163zM220 971h241v5h-241zM1033 1133h169v4h-169zM1033 1146h68v5h-68zM281 1276h684v5h-684zM413 1299h88v4h-88zM1241 1447h53v4h-53zM376 1474h27v4h-27zM500 1483h40v4h-40z"/><path fill="rgb(251,251,251)" d="M1033 1128h169v5h-169zM339 1155h6v5h-6zM295 1169h10v4h-10zM1033 1196h53v4h-53zM220 1348h163v5h-163z"/><path fill="rgb(252,252,252)" d="M461 953h210v5h-210zM1086 1030h460v4h-460zM220 1133h159v4h-159zM1033 1209h581v5h-581zM1033 1245h48v5h-48zM1033 1254h92v4h-92zM1026 1290h99v4h-99zM1033 1339h58v5h-58zM1033 1380h140v4h-140zM579 1474h3v4h-3zM1706 1532h140v5h-140z"/><path fill="rgb(253,253,253)" d="M220 908h41v5h-41zM1033 1151h68v4h-68zM928 1371h98v4h-98z"/><path fill="rgb(254,254,254)" d="M220 985h227v4h-227zM220 1057h119v4h-119zM1159 1326h48v4h-48zM1188 1384h34v5h-34zM1067 1402h48v5h-48zM1033 1447h97v4h-97zM1033 1492h339v4h-339zM220 1591h271v4h-271z"/><path fill="rgb(255,255,255)" d="M271 908h372v5h-372zM742 908h118v5h-118zM220 931h176v4h-176zM1033 953h261v5h-261zM931 958h41v4h-41zM992 958h41v4h-41zM1020 1007h269v5h-269zM1033 1016h339v5h-339zM220 1021h542v4h-542zM220 1048h146v4h-146zM372 1048h139v4h-139zM220 1061h119v5h-119zM220 1066h176v4h-176zM220 1070h176v5h-176zM240 1101h156v5h-156zM220 1110h169v5h-169zM989 1137h44v5h-44zM989 1142h44v4h-44zM372 1155h580v5h-580zM962 1155h71v5h-71zM220 1178h203v4h-203zM1110 1178h184v4h-184zM386 1191h146v5h-146zM247 1227h285v5h-285zM220 1254h322v4h-322zM1033 1267h194v5h-194zM1033 1272h194v4h-194zM1033 1281h97v4h-97zM220 1285h271v5h-271zM220 1299h163v4h-163zM874 1330h149v5h-149zM1115 1362h266v4h-266zM467 1366h447v5h-447zM1030 1375h3v5h-3zM992 1389h94v4h-94zM1130 1389h174v4h-174zM1033 1402h15v5h-15zM298 1411h373v5h-373zM704 1411h241v5h-241zM1130 1411h174v5h-174zM1599 1411h247v5h-247zM928 1429h10v4h-10zM1101 1429h271v4h-271zM505 1451h437v5h-437zM962 1451h71v5h-71zM1033 1469h111v5h-111zM220 1474h122v4h-122zM437 1474h13v4h-13zM762 1474h271v4h-271zM220 1483h136v4h-136zM418 1483h41v4h-41zM891 1496h142v5h-142zM996 1582h245v4h-245z"/></g><g filter="url(#fb4)"><path fill="rgb(222,222,222)" d="M498 1285h528v5h-528z"/><path fill="rgb(223,223,223)" d="M1033 1012h339v4h-339zM936 1025h10v5h-10zM1033 1048h184v4h-184zM406 1137h85v5h-85zM1091 1339h489v5h-489zM1319 1411h271v5h-271z"/><path fill="rgb(224,224,224)" d="M1033 1101h97v5h-97zM1033 1137h687v5h-687zM220 1227h10v5h-10zM762 1254h271v4h-271zM965 1276h68v5h-68zM1144 1285h315v5h-315zM1778 1496h68v5h-68zM1033 1586h208v5h-208z"/><path fill="rgb(225,225,225)" d="M400 1083h362v5h-362zM1236 1092h281v5h-281zM379 1133h109v4h-109zM1033 1214h619v4h-619zM1110 1451h349v5h-349zM491 1591h542v4h-542z"/><path fill="rgb(226,226,226)" d="M762 962h61v5h-61zM1033 1043h203v5h-203zM975 1227h11v5h-11zM1677 1433h169v5h-169z"/><path fill="rgb(227,227,227)" d="M1033 989h126v5h-126zM1033 1173h53v5h-53zM542 1227h27v5h-27zM1372 1326h121v4h-121zM1159 1469h295v5h-295z"/><path fill="rgb(228,228,228)" d="M762 1110h271v5h-271zM1149 1290h624v4h-624z"/><path fill="rgb(229,229,229)" d="M406 931h58v4h-58zM1304 1393h358v5h-358z"/><path fill="rgb(230,230,230)" d="M220 1003h241v4h-241zM860 1227h95v5h-95z"/><path fill="rgb(231,231,231)" d="M1033 1052h184v5h-184zM339 1057h694v4h-694zM786 1209h247v5h-247z"/><path fill="rgb(232,232,232)" d="M1033 980h194v5h-194zM220 998h241v5h-241zM220 1007h234v5h-234zM1372 1429h261v4h-261zM540 1483h479v4h-479z"/><path fill="rgb(233,233,233)" d="M805 1012h180v4h-180zM1202 1133h518v4h-518zM220 1169h41v4h-41zM501 1582h166v4h-166z"/><path fill="rgb(234,234,234)" d="M220 962h81v5h-81zM1033 1021h813v4h-813zM396 1066h366v4h-366zM982 1348h51v5h-51z"/><path fill="rgb(235,235,235)" d="M454 962h81v5h-81zM1033 994h126v4h-126zM339 1061h423v5h-423zM975 1083h58v5h-58zM542 1254h152v4h-152zM501 1299h532v4h-532zM1304 1389h358v4h-358z"/><path fill="rgb(236,236,236)" d="M464 1169h81v4h-81zM762 1250h1084v4h-1084z"/><path fill="rgb(237,237,237)" d="M315 962h118v5h-118zM804 1007h180v5h-180z"/></g>
<rect x="220" y="1379.4" width="1626" height="3.2" fill="#000"/>
<path d="M220 1126.1h16M1846 1126.1h-16" stroke="#262626" stroke-width="2"/>
<text x="198" y="1146.1" font-size="56" fill="#262626" text-anchor="end">50</text>
<path d="M220 1350.5h16M1846 1350.5h-16" stroke="#262626" stroke-width="2"/>
<text x="198" y="1370.5" font-size="56" fill="#262626" text-anchor="end">100</text>
<path d="M220 1574.8h16M1846 1574.8h-16" stroke="#262626" stroke-width="2"/>
<text x="198" y="1594.8" font-size="56" fill="#262626" text-anchor="end">150</text>
<rect x="220" y="904" width="1626" height="691" fill="none" stroke="#262626" stroke-width="2.4"/>
<text x="0" y="0" font-size="57" fill="#262626" text-anchor="middle" transform="translate(74 1249.5) rotate(-90)">Stations from north to south</text>
<rect x="1876" y="978.5" width="64" height="615.5" fill="url(#jet)" stroke="#262626" stroke-width="2"/>
<path d="M1940 978.5h-8" stroke="#262626" stroke-width="2"/>
<text x="1961" y="997.0" font-size="51" fill="#262626">3</text>
<path d="M1940 1099.9h-8" stroke="#262626" stroke-width="2"/>
<text x="1961" y="1118.4" font-size="51" fill="#262626">2.5</text>
<path d="M1940 1218.3h-8" stroke="#262626" stroke-width="2"/>
<text x="1961" y="1236.8" font-size="51" fill="#262626">2</text>
<path d="M1940 1338.7h-8" stroke="#262626" stroke-width="2"/>
<text x="1961" y="1357.2" font-size="51" fill="#262626">1.5</text>
<path d="M1940 1459.4h-8" stroke="#262626" stroke-width="2"/>
<text x="1961" y="1477.9" font-size="51" fill="#262626">1</text>
<path d="M1940 1579h-8" stroke="#262626" stroke-width="2"/>
<text x="1961" y="1597.5" font-size="51" fill="#262626">0.5</text>
<text x="1862" y="952.5" font-size="51" fill="#000">mm</text>
<text x="1056" y="1711" font-size="58" fill="#000" text-anchor="middle" style="font-family:'Liberation Serif',serif">(<tspan font-weight="bold">b</tspan>)</text>
<g filter="url(#fc0)"><path fill="rgb(128,128,128)" d="M220 1771h542v5h-542zM220 2006h542v4h-542zM332 2078h711v4h-711zM569 2096h735v4h-735zM762 2146h542v4h-542zM986 2173h47v4h-47zM220 2267h755v5h-755zM220 2367h1084v4h-1084zM220 2412h1084v4h-1084z"/><path fill="rgb(129,129,129)" d="M1314 1780h203v5h-203zM220 1789h1111v5h-1111zM220 1794h542v4h-542zM1013 1803h61v4h-61zM857 1821h447v4h-447zM220 1830h1084v4h-1084zM220 1834h542v5h-542zM220 1839h1084v4h-1084zM220 1848h542v4h-542zM220 1884h542v4h-542zM220 1947h542v5h-542zM220 1956h1524v5h-1524zM1304 1965h47v5h-47zM220 1983h1626v5h-1626zM559 2028h203v5h-203zM220 2055h1626v5h-1626zM1304 2073h542v5h-542zM220 2091h640v5h-640zM220 2100h1213v5h-1213zM762 2109h654v5h-654zM1304 2132h542v5h-542zM220 2137h1084v4h-1084zM762 2155h420v4h-420zM342 2222h962v5h-962zM762 2231h332v5h-332zM762 2245h268v4h-268zM271 2258h1033v5h-1033zM1687 2272h159v4h-159zM996 2281h139v4h-139zM1216 2290h630v5h-630zM958 2299h143v5h-143zM1778 2335h68v5h-68zM220 2340h129v4h-129zM362 2340h170v4h-170zM762 2380h982v5h-982zM762 2389h542v5h-542zM220 2398h1084v5h-1084zM220 2407h1626v5h-1626zM220 2434h1084v5h-1084zM220 2439h1084v4h-1084zM220 2448h1084v4h-1084z"/><path fill="rgb(130,130,130)" d="M220 1780h610v5h-610zM1304 1803h542v4h-542zM220 1812h678v4h-678zM220 1825h1040v5h-1040zM1304 1857h542v4h-542zM220 1906h1084v5h-1084zM220 1961h542v4h-542zM220 1965h14v5h-14zM220 2010h542v5h-542zM220 2033h1341v4h-1341zM220 2069h1084v4h-1084zM220 2087h417v4h-417zM220 2128h1626v4h-1626zM220 2132h874v5h-874zM220 2150h542v5h-542zM220 2159h915v5h-915zM1754 2186h92v5h-92zM220 2191h1287v4h-1287zM220 2204h1230v5h-1230zM220 2236h542v4h-542zM220 2240h542v5h-542zM427 2249h20v5h-20zM898 2263h406v4h-406zM1087 2267h109v5h-109zM220 2272h972v4h-972zM1511 2295h335v4h-335zM864 2313h545v4h-545zM220 2416h1084v5h-1084zM220 2430h1084v4h-1084z"/><path fill="rgb(131,131,131)" d="M1006 1807h74v5h-74zM220 1875h542v4h-542zM1710 1970h136v4h-136zM762 1974h244v5h-244zM220 1992h1084v5h-1084zM237 2015h1609v4h-1609zM220 2042h542v4h-542zM220 2073h542v5h-542zM220 2141h542v5h-542zM1304 2150h542v5h-542zM220 2164h542v4h-542zM220 2209h1230v4h-1230zM220 2218h542v4h-542zM1135 2227h603v4h-603zM413 2313h27v4h-27zM220 2317h1084v5h-1084zM1168 2322h68v4h-68zM1429 2322h190v4h-190zM220 2358h1480v4h-1480zM220 2362h671v5h-671zM220 2385h1274v4h-1274zM220 2394h1084v4h-1084zM220 2443h1037v5h-1037z"/><path fill="rgb(132,132,132)" d="M1304 1771h410v5h-410zM762 1807h183v5h-183zM1304 1902h237v4h-237zM220 1933h542v5h-542zM220 1938h542v4h-542zM1084 1947h406v5h-406zM220 1970h1084v4h-1084zM1229 1974h75v5h-75zM220 2037h864v5h-864zM762 2046h542v5h-542zM220 2051h894v4h-894zM762 2087h881v4h-881zM955 2091h227v5h-227zM1304 2091h186v5h-186zM220 2114h542v4h-542zM762 2123h478v5h-478zM1080 2173h766v4h-766zM220 2186h1398v5h-1398zM220 2200h542v4h-542zM220 2231h244v5h-244zM243 2249h30v5h-30zM220 2276h1084v5h-1084zM220 2290h938v5h-938zM372 2313h14v4h-14zM732 2313h30v4h-30zM396 2344h20v5h-20zM576 2344h186v5h-186zM220 2371h285v5h-285zM762 2421h542v4h-542z"/><path fill="rgb(133,133,133)" d="M220 1785h542v4h-542zM1450 1789h271v5h-271zM461 1798h1385v5h-1385zM220 1803h542v4h-542zM762 1816h102v5h-102zM898 1816h50v5h-50zM220 1852h1277v5h-1277zM220 1857h542v4h-542zM220 1902h779v4h-779zM220 1979h542v4h-542zM220 1988h1626v4h-1626zM1304 2028h542v5h-542zM1626 2033h220v4h-220zM220 2046h41v5h-41zM220 2082h1084v5h-1084zM220 2118h1196v5h-1196zM220 2177h952v5h-952zM220 2182h1626v4h-1626zM1023 2200h17v4h-17zM1094 2200h64v4h-64zM914 2236h204v4h-204zM578 2249h726v5h-726zM220 2285h915v5h-915zM220 2295h1084v4h-1084zM220 2313h75v4h-75zM220 2335h1084v5h-1084zM586 2340h176v4h-176zM1304 2340h542v4h-542zM1019 2344h285v5h-285zM1453 2344h237v5h-237zM220 2349h1626v4h-1626zM762 2353h542v5h-542zM538 2371h1308v5h-1308zM1429 2376h112v4h-112zM220 2425h1084v5h-1084z"/><path fill="rgb(134,134,134)" d="M1084 1816h220v5h-220zM762 1888h542v5h-542zM220 1893h1084v4h-1084zM220 1897h1321v5h-1321zM220 1911h1341v4h-1341zM220 1920h1084v4h-1084zM762 1952h542v4h-542zM1070 1974h95v5h-95zM1128 1979h176v4h-176zM220 2019h156v5h-156zM220 2024h1084v4h-1084zM220 2105h542v4h-542zM1135 2132h27v5h-27zM762 2168h1084v5h-1084zM220 2173h657v4h-657zM220 2195h1084v5h-1084zM762 2213h542v5h-542zM342 2227h420v4h-420zM286 2249h33v5h-33zM735 2263h27v4h-27zM220 2281h78v4h-78zM220 2304h1084v4h-1084zM220 2308h993v5h-993zM220 2326h1084v5h-1084zM220 2331h881v4h-881zM1548 2353h298v5h-298zM762 2376h542v4h-542zM762 2403h1084v4h-1084zM955 2452h349v5h-349zM220 2457h1084v4h-1084z"/></g><g filter="url(#fc1)"><path fill="rgb(160,160,160)" d="M898 1812h182v4h-182z"/><path fill="rgb(162,162,162)" d="M762 1803h176v4h-176z"/><path fill="rgb(163,163,163)" d="M762 1933h542v5h-542zM762 1961h542v4h-542zM1304 2299h207v5h-207z"/><path fill="rgb(164,164,164)" d="M762 1929h542v4h-542z"/><path fill="rgb(165,165,165)" d="M796 1785h508v4h-508zM1040 2019h264v5h-264z"/><path fill="rgb(166,166,166)" d="M948 1816h136v5h-136z"/><path fill="rgb(186,186,186)" d="M1551 1780h295v5h-295zM1304 1848h542v4h-542zM1304 1970h406v4h-406zM423 2001h163v5h-163zM1304 2037h542v5h-542zM1304 2046h542v5h-542zM1304 2222h542v5h-542zM1409 2313h437v4h-437zM1331 2317h515v5h-515zM1619 2322h227v4h-227zM1541 2376h305v4h-305zM1744 2380h102v5h-102z"/><path fill="rgb(187,187,187)" d="M1304 1776h542v4h-542zM1372 1785h474v4h-474zM1304 1952h542v4h-542zM1304 1992h542v5h-542zM1182 2155h122v4h-122zM1135 2159h711v5h-711zM1030 2245h274v4h-274zM1304 2263h542v4h-542zM1304 2322h125v4h-125zM1304 2376h125v4h-125zM1304 2394h542v4h-542z"/><path fill="rgb(188,188,188)" d="M1304 1843h542v5h-542zM762 1857h542v4h-542zM220 1870h542v5h-542zM1304 1884h542v4h-542zM1304 1915h542v5h-542zM1202 1924h644v5h-644zM1304 1938h542v4h-542zM762 2001h1084v5h-1084zM1643 2087h203v4h-203zM1304 2137h542v4h-542zM1738 2227h108v4h-108zM1192 2272h495v4h-495zM1304 2335h88v5h-88zM1304 2421h542v4h-542zM1463 2425h383v5h-383z"/><path fill="rgb(189,189,189)" d="M1714 1771h132v5h-132zM1304 1812h542v4h-542zM1304 1816h542v5h-542zM220 1866h1084v4h-1084zM1541 1902h305v4h-305zM1304 1906h542v5h-542zM1561 1911h285v4h-285zM1744 1956h102v5h-102zM1304 1961h542v4h-542zM1351 1965h495v5h-495zM762 1997h542v4h-542zM762 2006h542v4h-542zM1653 2082h193v5h-193zM1433 2100h413v5h-413zM1304 2146h542v4h-542zM1450 2204h396v5h-396zM1118 2236h186v4h-186zM1304 2240h542v5h-542zM1304 2326h542v5h-542zM1304 2448h542v4h-542z"/><path fill="rgb(190,190,190)" d="M1331 1789h119v5h-119zM1304 1830h542v4h-542zM220 1861h1626v5h-1626zM1304 1979h542v4h-542zM762 2010h1084v5h-1084zM1304 2200h542v4h-542zM1196 2267h650v5h-650zM1304 2304h542v4h-542zM1304 2412h542v4h-542zM1304 2434h542v5h-542zM1304 2439h542v4h-542z"/><path fill="rgb(191,191,191)" d="M1721 1789h125v5h-125zM1074 1803h230v4h-230zM1080 1807h766v5h-766zM1497 1852h271v5h-271zM925 1875h379v4h-379zM1490 2091h356v5h-356zM1507 2191h339v4h-339zM1406 2236h304v4h-304zM1182 2254h664v4h-664zM1304 2295h207v4h-207zM1257 2443h589v5h-589z"/><path fill="rgb(192,192,192)" d="M1304 1834h542v5h-542zM1304 1893h542v4h-542z"/><path fill="rgb(204,204,204)" d="M1304 1920h379v4h-379zM1490 1947h356v5h-356zM1416 2105h430v4h-430zM1517 2114h329v4h-329zM1507 2209h339v4h-339zM1304 2362h542v5h-542z"/><path fill="rgb(205,205,205)" d="M1755 1920h91v4h-91zM1304 2006h417v4h-417zM1304 2308h542v5h-542zM1812 2358h34v4h-34z"/><path fill="rgb(206,206,206)" d="M1304 1866h542v4h-542zM762 1879h169v5h-169zM1304 1879h542v5h-542zM1304 1929h542v4h-542zM1490 2096h356v4h-356zM1416 2118h430v5h-430zM1304 2141h542v5h-542zM1304 2213h542v5h-542zM1440 2218h406v4h-406zM1304 2258h542v5h-542zM1304 2367h542v4h-542z"/><path fill="rgb(207,207,207)" d="M1304 1825h542v5h-542zM1541 1897h305v5h-305zM1304 2019h542v5h-542zM1304 2164h542v4h-542zM1304 2331h542v4h-542zM1494 2385h352v4h-352zM1304 2457h542v4h-542z"/><path fill="rgb(208,208,208)" d="M1304 1974h542v5h-542zM1304 1997h542v4h-542zM1416 2109h430v5h-430zM1304 2155h542v4h-542zM1690 2344h156v5h-156zM1304 2398h542v5h-542z"/><path fill="rgb(209,209,209)" d="M789 1875h136v4h-136zM1304 2042h542v4h-542zM1304 2195h542v5h-542zM1304 2389h542v5h-542zM1463 2430h383v4h-383z"/><path fill="rgb(210,210,210)" d="M1304 2416h542v5h-542z"/></g><g filter="url(#fc3)"><path fill="rgb(252,252,252)" d="M762 1884h169v4h-169zM762 2340h542v4h-542z"/><path fill="rgb(253,253,253)" d="M1304 2218h136v4h-136z"/><path fill="rgb(254,254,254)" d="M965 1884h339v4h-339zM501 2322h634v4h-634zM1304 2344h132v5h-132z"/><path fill="rgb(255,255,255)" d="M220 1888h542v5h-542zM383 2001h40v5h-40zM860 2091h95v5h-95zM1416 2114h101v4h-101zM220 2344h122v5h-122zM369 2344h27v5h-27zM416 2344h14v5h-14zM572 2344h4v5h-4z"/></g><g filter="url(#fc4)"><path fill="rgb(176,176,176)" d="M220 1843h542v5h-542zM1304 1875h542v4h-542zM999 1902h305v4h-305zM220 1929h542v4h-542zM220 1942h542v5h-542zM220 1974h542v5h-542zM762 1979h366v4h-366zM220 2001h163v5h-163zM261 2046h501v5h-501zM1043 2078h261v4h-261zM1240 2123h606v5h-606zM762 2150h542v5h-542zM1094 2231h752v5h-752zM975 2267h112v5h-112zM1101 2331h203v4h-203zM220 2380h542v5h-542z"/><path fill="rgb(177,177,177)" d="M220 1879h542v5h-542zM975 1915h329v5h-329zM654 2001h108v5h-108zM1304 2069h542v4h-542zM1304 2082h308v5h-308zM762 2164h542v4h-542zM877 2200h146v4h-146zM461 2213h301v5h-301zM762 2218h542v4h-542zM464 2231h298v5h-298zM762 2236h152v4h-152zM1101 2299h203v5h-203zM1213 2308h91v5h-91zM762 2344h257v5h-257zM220 2353h542v5h-542zM220 2461h1626v5h-1626z"/><path fill="rgb(178,178,178)" d="M220 1807h542v5h-542zM220 1821h603v4h-603zM762 1834h542v5h-542zM762 2114h654v4h-654zM284 2146h478v4h-478zM220 2213h159v5h-159zM992 2254h190v4h-190zM220 2376h542v4h-542zM220 2421h542v4h-542zM220 2452h542v5h-542z"/><path fill="rgb(179,179,179)" d="M254 1776h1050v4h-1050zM1080 1812h224v4h-224zM931 1879h373v5h-373zM220 1915h698v5h-698zM762 1938h542v4h-542zM234 1965h1070v5h-1070zM376 2019h664v5h-664zM1077 2073h227v5h-227zM1162 2132h142v5h-142zM762 2141h542v5h-542zM220 2168h542v5h-542zM1618 2186h136v5h-136zM1158 2200h146v4h-146zM298 2281h698v4h-698zM220 2322h176v4h-176zM1236 2322h68v4h-68z"/><path fill="rgb(180,180,180)" d="M220 1798h241v5h-241zM762 1848h542v4h-542zM762 1875h27v4h-27zM762 1924h440v5h-440zM1084 2037h220v5h-220zM762 2042h542v4h-542zM1114 2051h732v4h-732zM904 2064h400v5h-400zM1094 2105h322v4h-322z"/><path fill="rgb(181,181,181)" d="M762 1771h542v5h-542zM220 1776h30v4h-30zM762 1947h322v5h-322zM220 1997h542v4h-542zM220 2028h85v5h-85zM383 2060h521v4h-521zM786 2073h257v5h-257zM220 2096h349v4h-349zM220 2123h542v5h-542zM220 2155h542v4h-542zM1172 2177h674v5h-674zM914 2240h390v5h-390zM1135 2285h711v5h-711zM891 2362h413v5h-413z"/></g>
<rect x="220" y="2250.0" width="1626" height="3.2" fill="#000"/>
<path d="M220 1994.4h16M1846 1994.4h-16" stroke="#262626" stroke-width="2"/>
<text x="198" y="2014.4" font-size="56" fill="#262626" text-anchor="end">50</text>
<path d="M220 2220.0h16M1846 2220.0h-16" stroke="#262626" stroke-width="2"/>
<text x="198" y="2240.0" font-size="56" fill="#262626" text-anchor="end">100</text>
<path d="M220 2445.7h16M1846 2445.7h-16" stroke="#262626" stroke-width="2"/>
<text x="198" y="2465.7" font-size="56" fill="#262626" text-anchor="end">150</text>
<rect x="220" y="1771" width="1626" height="695" fill="none" stroke="#262626" stroke-width="2.4"/>
<text x="0" y="0" font-size="57" fill="#262626" text-anchor="middle" transform="translate(74 2118.5) rotate(-90)">Stations from north to south</text>
<rect x="1876" y="1850.5" width="64" height="616.0" fill="url(#jet)" stroke="#262626" stroke-width="2"/>
<path d="M1940 1850.5h-8" stroke="#262626" stroke-width="2"/>
<text x="1961" y="1869.0" font-size="51" fill="#262626">0.1</text>
<path d="M1940 2004.5h-8" stroke="#262626" stroke-width="2"/>
<text x="1961" y="2023.0" font-size="51" fill="#262626">0.05</text>
<path d="M1940 2159.4h-8" stroke="#262626" stroke-width="2"/>
<text x="1961" y="2177.9" font-size="51" fill="#262626">0</text>
<path d="M1940 2312.6h-8" stroke="#262626" stroke-width="2"/>
<text x="1961" y="2331.1" font-size="51" fill="#262626">-0.05</text>
<path d="M1940 2466.5h-8" stroke="#262626" stroke-width="2"/>
<text x="1961" y="2485.0" font-size="51" fill="#262626">-0.1</text>
<text x="1862" y="1824.5" font-size="51" fill="#000">mm</text>
<text x="1056" y="2711" font-size="58" fill="#000" text-anchor="middle" style="font-family:'Liberation Serif',serif">(<tspan font-weight="bold">c</tspan>)</text>
<rect x="272" y="633" width="896" height="58.5" fill="#fff"/>
<text x="278" y="678.3" font-size="56.5" fill="#000">Formal errors of GPS-based ZWDs</text>
<rect x="272" y="1505.5" width="1048" height="58.5" fill="#fff"/>
<text x="278" y="1551" font-size="56.5" fill="#000">Formal errors of GLONASS-based ZWDs</text>
<rect x="589.2" y="1790.2" width="9.5" height="9.5" fill="#f0f"/><rect x="246.6" y="1864.7" width="8" height="8" fill="none" stroke="#1a1a1a" stroke-width="2"/><rect x="834.5" y="1773.5" width="8" height="8" fill="none" stroke="#1a1a1a" stroke-width="2"/><rect x="1049.2" y="1790.2" width="9.5" height="9.5" fill="#f0f"/><rect x="1000.6" y="1805.0" width="8" height="8" fill="none" stroke="#1a1a1a" stroke-width="2"/><rect x="1062.0" y="1810.5" width="8" height="8" fill="#f0f" stroke="#1a1a1a" stroke-width="2"/><rect x="1060.6" y="1814.7" width="8" height="8" fill="#f0f" stroke="#1a1a1a" stroke-width="2"/><rect x="1127.2" y="1814.0" width="9.5" height="9.5" fill="#f0f"/><rect x="921.9" y="1823.5" width="8" height="8" fill="none" stroke="#1a1a1a" stroke-width="2"/><rect x="977.2" y="1822.8" width="9.5" height="9.5" fill="#f0f"/><rect x="879.6" y="1836.4" width="8" height="8" fill="none" stroke="#1a1a1a" stroke-width="2"/><rect x="1221.5" y="1846.0" width="8" height="8" fill="#f0f" stroke="#1a1a1a" stroke-width="2"/><rect x="1137.4" y="1854.7" width="8" height="8" fill="#f0f" stroke="#1a1a1a" stroke-width="2"/><rect x="1154.0" y="1859.0" width="8" height="8" fill="none" stroke="#1a1a1a" stroke-width="2"/><rect x="1286.0" y="1855.0" width="8" height="8" fill="#f0f" stroke="#1a1a1a" stroke-width="2"/><rect x="1012.5" y="1864.4" width="8" height="8" fill="none" stroke="#1a1a1a" stroke-width="2"/><rect x="1012.0" y="1880.8" width="9.5" height="9.5" fill="#f0f"/><rect x="1191.0" y="1877.6" width="8" height="8" fill="none" stroke="#1a1a1a" stroke-width="2"/><rect x="1210.0" y="1877.6" width="8" height="8" fill="none" stroke="#1a1a1a" stroke-width="2"/><rect x="1284.5" y="1881.5" width="8" height="8" fill="none" stroke="#1a1a1a" stroke-width="2"/><rect x="932.0" y="1890.5" width="8" height="8" fill="none" stroke="#1a1a1a" stroke-width="2"/><rect x="1120.0" y="1896.0" width="8" height="8" fill="none" stroke="#1a1a1a" stroke-width="2"/><rect x="1214.2" y="1895.2" width="9.5" height="9.5" fill="#f0f"/><rect x="1084.8" y="1904.0" width="8" height="8" fill="#f0f" stroke="#1a1a1a" stroke-width="2"/><rect x="1300.0" y="1791.0" width="8" height="8" fill="none" stroke="#1a1a1a" stroke-width="2"/><rect x="1303.0" y="1770.0" width="8" height="8" fill="none" stroke="#1a1a1a" stroke-width="2"/><rect x="1515.5" y="1779.0" width="8" height="8" fill="#f0f" stroke="#1a1a1a" stroke-width="2"/><rect x="1532.0" y="1782.5" width="8" height="8" fill="none" stroke="#1a1a1a" stroke-width="2"/><rect x="1481.2" y="1790.2" width="9.5" height="9.5" fill="#f0f"/><rect x="1302.6" y="1792.0" width="8" height="8" fill="none" stroke="#1a1a1a" stroke-width="2"/><rect x="1494.2" y="1804.2" width="9.5" height="9.5" fill="#f0f"/><rect x="1307.0" y="1833.0" width="8" height="8" fill="none" stroke="#1a1a1a" stroke-width="2"/><rect x="1641.0" y="1833.0" width="8" height="8" fill="none" stroke="#1a1a1a" stroke-width="2"/><rect x="1496.8" y="1855.0" width="8" height="8" fill="#f0f" stroke="#1a1a1a" stroke-width="2"/><rect x="1641.0" y="1855.0" width="8" height="8" fill="none" stroke="#1a1a1a" stroke-width="2"/><rect x="1700.0" y="1859.6" width="8" height="8" fill="none" stroke="#1a1a1a" stroke-width="2"/><rect x="1805.8" y="1879.2" width="9.5" height="9.5" fill="#f0f"/><rect x="1805.8" y="1888.2" width="9.5" height="9.5" fill="#f0f"/><rect x="1304.0" y="1900.0" width="8" height="8" fill="none" stroke="#1a1a1a" stroke-width="2"/><rect x="1378.0" y="1896.0" width="8" height="8" fill="none" stroke="#1a1a1a" stroke-width="2"/><rect x="1541.0" y="1900.0" width="8" height="8" fill="#f0f" stroke="#1a1a1a" stroke-width="2"/><rect x="1595.0" y="1896.0" width="8" height="8" fill="none" stroke="#1a1a1a" stroke-width="2"/><rect x="1561.0" y="1904.0" width="8" height="8" fill="none" stroke="#1a1a1a" stroke-width="2"/><rect x="225.7" y="1954.4" width="8" height="8" fill="#f0f" stroke="#1a1a1a" stroke-width="2"/><rect x="645.0" y="1963.8" width="8" height="8" fill="none" stroke="#1a1a1a" stroke-width="2"/><rect x="715.2" y="1966.5" width="9.5" height="9.5" fill="#f0f"/><rect x="333.7" y="1990.2" width="8" height="8" fill="none" stroke="#1a1a1a" stroke-width="2"/><rect x="367.6" y="1990.2" width="8" height="8" fill="#f0f" stroke="#1a1a1a" stroke-width="2"/><rect x="429.0" y="1999.6" width="8" height="8" fill="#f0f" stroke="#1a1a1a" stroke-width="2"/><rect x="489.0" y="1999.6" width="8" height="8" fill="none" stroke="#1a1a1a" stroke-width="2"/><rect x="710.0" y="1994.0" width="8" height="8" fill="none" stroke="#1a1a1a" stroke-width="2"/><rect x="710.0" y="1999.0" width="8" height="8" fill="none" stroke="#1a1a1a" stroke-width="2"/><rect x="420.0" y="2018.0" width="8" height="8" fill="#f0f" stroke="#1a1a1a" stroke-width="2"/><rect x="471.8" y="2027.0" width="8" height="8" fill="none" stroke="#1a1a1a" stroke-width="2"/><rect x="610.2" y="2029.8" width="9.5" height="9.5" fill="#f0f"/><rect x="690.0" y="2036.0" width="8" height="8" fill="#f0f" stroke="#1a1a1a" stroke-width="2"/><rect x="1286.0" y="1910.0" width="8" height="8" fill="none" stroke="#1a1a1a" stroke-width="2"/><rect x="1132.0" y="1922.5" width="8" height="8" fill="#f0f" stroke="#1a1a1a" stroke-width="2"/><rect x="1199.0" y="1919.0" width="8" height="8" fill="none" stroke="#1a1a1a" stroke-width="2"/><rect x="774.0" y="1932.0" width="8" height="8" fill="none" stroke="#1a1a1a" stroke-width="2"/><rect x="854.8" y="1932.0" width="8" height="8" fill="none" stroke="#1a1a1a" stroke-width="2"/><rect x="996.0" y="1932.0" width="8" height="8" fill="#f0f" stroke="#1a1a1a" stroke-width="2"/><rect x="1121.2" y="1935.2" width="9.5" height="9.5" fill="#f0f"/><rect x="1091.0" y="1950.0" width="8" height="8" fill="#f0f" stroke="#1a1a1a" stroke-width="2"/><rect x="1083.0" y="1958.6" width="8" height="8" fill="#f0f" stroke="#1a1a1a" stroke-width="2"/><rect x="1276.7" y="1954.7" width="8" height="8" fill="none" stroke="#1a1a1a" stroke-width="2"/><rect x="885.2" y="1975.2" width="9.5" height="9.5" fill="#f0f"/><rect x="1226.7" y="1973.0" width="8" height="8" fill="#f0f" stroke="#1a1a1a" stroke-width="2"/><rect x="1014.5" y="1994.7" width="8" height="8" fill="none" stroke="#1a1a1a" stroke-width="2"/><rect x="1112.8" y="1994.7" width="8" height="8" fill="none" stroke="#1a1a1a" stroke-width="2"/><rect x="1077.0" y="2004.4" width="8" height="8" fill="none" stroke="#1a1a1a" stroke-width="2"/><rect x="1241.0" y="1990.0" width="8" height="8" fill="none" stroke="#1a1a1a" stroke-width="2"/><rect x="1257.2" y="1994.0" width="9.5" height="9.5" fill="#f0f"/><rect x="1198.2" y="2007.8" width="9.5" height="9.5" fill="#f0f"/><rect x="1025.0" y="2017.6" width="8" height="8" fill="#f0f" stroke="#1a1a1a" stroke-width="2"/><rect x="1111.5" y="2030.5" width="8" height="8" fill="none" stroke="#1a1a1a" stroke-width="2"/><rect x="1148.0" y="2030.5" width="8" height="8" fill="#f0f" stroke="#1a1a1a" stroke-width="2"/><rect x="1564.0" y="1910.0" width="8" height="8" fill="#f0f" stroke="#1a1a1a" stroke-width="2"/><rect x="1805.8" y="1912.8" width="9.5" height="9.5" fill="#f0f"/><rect x="1648.2" y="1918.2" width="9.5" height="9.5" fill="#f0f"/><rect x="1470.2" y="1926.2" width="9.5" height="9.5" fill="#f0f"/><rect x="1812.0" y="1932.0" width="8" height="8" fill="#f0f" stroke="#1a1a1a" stroke-width="2"/><rect x="1571.8" y="1935.2" width="9.5" height="9.5" fill="#f0f"/><rect x="1491.0" y="1945.0" width="8" height="8" fill="#f0f" stroke="#1a1a1a" stroke-width="2"/><rect x="1743.0" y="1954.7" width="8" height="8" fill="#f0f" stroke="#1a1a1a" stroke-width="2"/><rect x="1347.0" y="1963.5" width="8" height="8" fill="#f0f" stroke="#1a1a1a" stroke-width="2"/><rect x="1559.8" y="1966.5" width="9.5" height="9.5" fill="#f0f"/><rect x="1391.0" y="1976.0" width="8" height="8" fill="#f0f" stroke="#1a1a1a" stroke-width="2"/><rect x="1358.0" y="1989.2" width="9.5" height="9.5" fill="#f0f"/><rect x="1496.0" y="1985.4" width="8" height="8" fill="none" stroke="#1a1a1a" stroke-width="2"/><rect x="1726.5" y="1985.4" width="8" height="8" fill="none" stroke="#1a1a1a" stroke-width="2"/><rect x="1470.2" y="1994.0" width="9.5" height="9.5" fill="#f0f"/><rect x="1564.0" y="1999.6" width="8" height="8" fill="#f0f" stroke="#1a1a1a" stroke-width="2"/><rect x="1587.0" y="1994.7" width="8" height="8" fill="none" stroke="#1a1a1a" stroke-width="2"/><rect x="1805.8" y="2003.7" width="9.5" height="9.5" fill="#f0f"/><rect x="1651.6" y="2013.5" width="8" height="8" fill="#f0f" stroke="#1a1a1a" stroke-width="2"/><rect x="1805.8" y="2020.8" width="9.5" height="9.5" fill="#f0f"/><rect x="1429.0" y="2027.0" width="8" height="8" fill="none" stroke="#1a1a1a" stroke-width="2"/><rect x="1618.7" y="2030.5" width="8" height="8" fill="none" stroke="#1a1a1a" stroke-width="2"/><rect x="1679.8" y="2029.8" width="9.5" height="9.5" fill="#f0f"/><rect x="1728.0" y="2030.5" width="8" height="8" fill="none" stroke="#1a1a1a" stroke-width="2"/><rect x="1454.0" y="2036.0" width="8" height="8" fill="#f0f" stroke="#1a1a1a" stroke-width="2"/><rect x="1302.2" y="2039.2" width="9.5" height="9.5" fill="#f0f"/><rect x="1607.0" y="2044.0" width="8" height="8" fill="#f0f" stroke="#1a1a1a" stroke-width="2"/><rect x="287.6" y="2050.0" width="8" height="8" fill="none" stroke="#1a1a1a" stroke-width="2"/><rect x="553.0" y="2049.2" width="9.5" height="9.5" fill="#f0f"/><rect x="501.5" y="2071.8" width="8" height="8" fill="none" stroke="#1a1a1a" stroke-width="2"/><rect x="529.0" y="2071.8" width="8" height="8" fill="none" stroke="#1a1a1a" stroke-width="2"/><rect x="409.0" y="2098.6" width="8" height="8" fill="#f0f" stroke="#1a1a1a" stroke-width="2"/><rect x="468.0" y="2103.8" width="8" height="8" fill="none" stroke="#1a1a1a" stroke-width="2"/><rect x="498.2" y="2103.1" width="9.5" height="9.5" fill="#f0f"/><rect x="630.5" y="2098.6" width="8" height="8" fill="#f0f" stroke="#1a1a1a" stroke-width="2"/><rect x="330.5" y="2113.0" width="8" height="8" fill="none" stroke="#1a1a1a" stroke-width="2"/><rect x="723.0" y="2116.0" width="8" height="8" fill="none" stroke="#1a1a1a" stroke-width="2"/><rect x="647.6" y="2130.0" width="8" height="8" fill="none" stroke="#1a1a1a" stroke-width="2"/><rect x="667.0" y="2130.0" width="8" height="8" fill="none" stroke="#1a1a1a" stroke-width="2"/><rect x="453.4" y="2144.4" width="8" height="8" fill="none" stroke="#1a1a1a" stroke-width="2"/><rect x="567.0" y="2144.4" width="8" height="8" fill="none" stroke="#1a1a1a" stroke-width="2"/><rect x="596.0" y="2144.4" width="8" height="8" fill="none" stroke="#1a1a1a" stroke-width="2"/><rect x="358.6" y="2161.5" width="8" height="8" fill="none" stroke="#1a1a1a" stroke-width="2"/><rect x="527.6" y="2157.6" width="8" height="8" fill="none" stroke="#1a1a1a" stroke-width="2"/><rect x="1037.0" y="2050.0" width="8" height="8" fill="none" stroke="#1a1a1a" stroke-width="2"/><rect x="1064.2" y="2049.2" width="9.5" height="9.5" fill="#f0f"/><rect x="899.0" y="2067.3" width="8" height="8" fill="none" stroke="#1a1a1a" stroke-width="2"/><rect x="1132.0" y="2071.8" width="8" height="8" fill="none" stroke="#1a1a1a" stroke-width="2"/><rect x="989.6" y="2081.0" width="8" height="8" fill="#f0f" stroke="#1a1a1a" stroke-width="2"/><rect x="1208.0" y="2085.0" width="8" height="8" fill="#f0f" stroke="#1a1a1a" stroke-width="2"/><rect x="892.8" y="2090.0" width="8" height="8" fill="#f0f" stroke="#1a1a1a" stroke-width="2"/><rect x="1060.6" y="2113.0" width="8" height="8" fill="none" stroke="#1a1a1a" stroke-width="2"/><rect x="1233.8" y="2125.4" width="8" height="8" fill="#f0f" stroke="#1a1a1a" stroke-width="2"/><rect x="1211.0" y="2130.2" width="8" height="8" fill="none" stroke="#1a1a1a" stroke-width="2"/><rect x="1128.0" y="2134.7" width="8" height="8" fill="none" stroke="#1a1a1a" stroke-width="2"/><rect x="1154.0" y="2134.7" width="8" height="8" fill="#f0f" stroke="#1a1a1a" stroke-width="2"/><rect x="1080.6" y="2144.4" width="8" height="8" fill="none" stroke="#1a1a1a" stroke-width="2"/><rect x="1174.0" y="2152.5" width="8" height="8" fill="none" stroke="#1a1a1a" stroke-width="2"/><rect x="1021.9" y="2157.6" width="8" height="8" fill="#f0f" stroke="#1a1a1a" stroke-width="2"/><rect x="1141.0" y="2161.5" width="8" height="8" fill="#f0f" stroke="#1a1a1a" stroke-width="2"/><rect x="1167.0" y="2176.0" width="8" height="8" fill="#f0f" stroke="#1a1a1a" stroke-width="2"/><rect x="1835.5" y="2053.5" width="8" height="8" fill="none" stroke="#1a1a1a" stroke-width="2"/><rect x="1753.2" y="2061.8" width="9.5" height="9.5" fill="#f0f"/><rect x="1759.7" y="2062.5" width="8" height="8" fill="none" stroke="#1a1a1a" stroke-width="2"/><rect x="1808.4" y="2071.8" width="8" height="8" fill="none" stroke="#1a1a1a" stroke-width="2"/><rect x="1460.5" y="2089.2" width="9.5" height="9.5" fill="#f0f"/><rect x="1481.2" y="2089.2" width="9.5" height="9.5" fill="#f0f"/><rect x="1638.0" y="2090.0" width="8" height="8" fill="#f0f" stroke="#1a1a1a" stroke-width="2"/><rect x="1454.0" y="2098.6" width="8" height="8" fill="none" stroke="#1a1a1a" stroke-width="2"/><rect x="1388.7" y="2103.8" width="8" height="8" fill="none" stroke="#1a1a1a" stroke-width="2"/><rect x="1419.2" y="2103.1" width="9.5" height="9.5" fill="#f0f"/><rect x="1588.7" y="2103.8" width="8" height="8" fill="none" stroke="#1a1a1a" stroke-width="2"/><rect x="1385.5" y="2113.0" width="8" height="8" fill="none" stroke="#1a1a1a" stroke-width="2"/><rect x="1446.0" y="2116.4" width="8" height="8" fill="#f0f" stroke="#1a1a1a" stroke-width="2"/><rect x="1312.0" y="2121.2" width="8" height="8" fill="#f0f" stroke="#1a1a1a" stroke-width="2"/><rect x="1838.7" y="2130.0" width="8" height="8" fill="#f0f" stroke="#1a1a1a" stroke-width="2"/><rect x="1455.0" y="2139.6" width="8" height="8" fill="#f0f" stroke="#1a1a1a" stroke-width="2"/><rect x="1805.8" y="2143.7" width="9.5" height="9.5" fill="#f0f"/><rect x="1809.7" y="2148.6" width="8" height="8" fill="#f0f" stroke="#1a1a1a" stroke-width="2"/><rect x="1768.2" y="2151.8" width="9.5" height="9.5" fill="#f0f"/><rect x="1833.2" y="2151.8" width="9.5" height="9.5" fill="#f0f"/><rect x="1651.0" y="2170.5" width="8" height="8" fill="none" stroke="#1a1a1a" stroke-width="2"/><rect x="1795.0" y="2179.0" width="8" height="8" fill="none" stroke="#1a1a1a" stroke-width="2"/><rect x="391.8" y="2193.5" width="8" height="8" fill="#f0f" stroke="#1a1a1a" stroke-width="2"/><rect x="482.8" y="2215.4" width="8" height="8" fill="none" stroke="#1a1a1a" stroke-width="2"/><rect x="622.5" y="2238.0" width="8" height="8" fill="none" stroke="#1a1a1a" stroke-width="2"/><rect x="232.8" y="2265.4" width="8" height="8" fill="#f0f" stroke="#1a1a1a" stroke-width="2"/><rect x="247.6" y="2264.7" width="9.5" height="9.5" fill="#f0f"/><rect x="262.1" y="2264.7" width="9.5" height="9.5" fill="#f0f"/><rect x="400.8" y="2275.2" width="9.5" height="9.5" fill="#f0f"/><rect x="400.8" y="2281.2" width="9.5" height="9.5" fill="#f0f"/><rect x="395.0" y="2283.8" width="8" height="8" fill="none" stroke="#1a1a1a" stroke-width="2"/><rect x="489.0" y="2279.6" width="8" height="8" fill="none" stroke="#1a1a1a" stroke-width="2"/><rect x="581.5" y="2274.7" width="8" height="8" fill="#f0f" stroke="#1a1a1a" stroke-width="2"/><rect x="590.8" y="2283.8" width="8" height="8" fill="none" stroke="#1a1a1a" stroke-width="2"/><rect x="516.0" y="2301.5" width="8" height="8" fill="#f0f" stroke="#1a1a1a" stroke-width="2"/><rect x="328.0" y="2307.0" width="8" height="8" fill="none" stroke="#1a1a1a" stroke-width="2"/><rect x="426.6" y="2315.4" width="8" height="8" fill="none" stroke="#1a1a1a" stroke-width="2"/><rect x="429.8" y="2324.9" width="9.5" height="9.5" fill="#f0f"/><rect x="973.5" y="2202.5" width="8" height="8" fill="none" stroke="#1a1a1a" stroke-width="2"/><rect x="1218.6" y="2207.0" width="8" height="8" fill="none" stroke="#1a1a1a" stroke-width="2"/><rect x="861.2" y="2216.0" width="8" height="8" fill="none" stroke="#1a1a1a" stroke-width="2"/><rect x="1178.3" y="2220.9" width="8" height="8" fill="#f0f" stroke="#1a1a1a" stroke-width="2"/><rect x="1273.2" y="2224.2" width="9.5" height="9.5" fill="#f0f"/><rect x="1087.7" y="2229.9" width="8" height="8" fill="#f0f" stroke="#1a1a1a" stroke-width="2"/><rect x="921.5" y="2238.0" width="8" height="8" fill="none" stroke="#1a1a1a" stroke-width="2"/><rect x="1023.0" y="2238.0" width="8" height="8" fill="none" stroke="#1a1a1a" stroke-width="2"/><rect x="1107.0" y="2238.0" width="8" height="8" fill="#f0f" stroke="#1a1a1a" stroke-width="2"/><rect x="1025.0" y="2242.5" width="8" height="8" fill="#f0f" stroke="#1a1a1a" stroke-width="2"/><rect x="1174.0" y="2252.5" width="8" height="8" fill="none" stroke="#1a1a1a" stroke-width="2"/><rect x="867.0" y="2265.4" width="8" height="8" fill="#f0f" stroke="#1a1a1a" stroke-width="2"/><rect x="954.8" y="2265.4" width="8" height="8" fill="#f0f" stroke="#1a1a1a" stroke-width="2"/><rect x="1203.2" y="2259.8" width="9.5" height="9.5" fill="#f0f"/><rect x="1183.8" y="2270.2" width="8" height="8" fill="none" stroke="#1a1a1a" stroke-width="2"/><rect x="1124.8" y="2283.8" width="8" height="8" fill="none" stroke="#1a1a1a" stroke-width="2"/><rect x="1212.8" y="2288.0" width="8" height="8" fill="#f0f" stroke="#1a1a1a" stroke-width="2"/><rect x="983.0" y="2292.5" width="8" height="8" fill="#f0f" stroke="#1a1a1a" stroke-width="2"/><rect x="1212.8" y="2306.4" width="8" height="8" fill="none" stroke="#1a1a1a" stroke-width="2"/><rect x="1159.0" y="2319.3" width="8" height="8" fill="none" stroke="#1a1a1a" stroke-width="2"/><rect x="1238.6" y="2319.3" width="8" height="8" fill="#f0f" stroke="#1a1a1a" stroke-width="2"/><rect x="1485.5" y="2193.5" width="8" height="8" fill="none" stroke="#1a1a1a" stroke-width="2"/><rect x="1629.0" y="2190.0" width="8" height="8" fill="none" stroke="#1a1a1a" stroke-width="2"/><rect x="1653.2" y="2192.8" width="9.5" height="9.5" fill="#f0f"/><rect x="1594.5" y="2202.5" width="8" height="8" fill="none" stroke="#1a1a1a" stroke-width="2"/><rect x="1629.0" y="2207.0" width="8" height="8" fill="#f0f" stroke="#1a1a1a" stroke-width="2"/><rect x="1579.0" y="2211.8" width="8" height="8" fill="#f0f" stroke="#1a1a1a" stroke-width="2"/><rect x="1713.5" y="2225.0" width="8" height="8" fill="#f0f" stroke="#1a1a1a" stroke-width="2"/><rect x="1761.2" y="2220.2" width="9.5" height="9.5" fill="#f0f"/><rect x="1802.0" y="2221.0" width="8" height="8" fill="none" stroke="#1a1a1a" stroke-width="2"/><rect x="1805.8" y="2233.9" width="9.5" height="9.5" fill="#f0f"/><rect x="1823.0" y="2238.0" width="8" height="8" fill="#f0f" stroke="#1a1a1a" stroke-width="2"/><rect x="1764.5" y="2253.0" width="8" height="8" fill="none" stroke="#1a1a1a" stroke-width="2"/><rect x="1547.7" y="2265.4" width="8" height="8" fill="none" stroke="#1a1a1a" stroke-width="2"/><rect x="1594.0" y="2265.4" width="8" height="8" fill="none" stroke="#1a1a1a" stroke-width="2"/><rect x="1664.5" y="2274.7" width="8" height="8" fill="none" stroke="#1a1a1a" stroke-width="2"/><rect x="1302.6" y="2274.7" width="8" height="8" fill="none" stroke="#1a1a1a" stroke-width="2"/><rect x="1798.7" y="2292.5" width="8" height="8" fill="#f0f" stroke="#1a1a1a" stroke-width="2"/><rect x="1826.8" y="2292.5" width="8" height="8" fill="#f0f" stroke="#1a1a1a" stroke-width="2"/><rect x="1829.7" y="2297.6" width="8" height="8" fill="#f0f" stroke="#1a1a1a" stroke-width="2"/><rect x="1530.0" y="2301.5" width="8" height="8" fill="none" stroke="#1a1a1a" stroke-width="2"/><rect x="1380.0" y="2310.5" width="8" height="8" fill="#f0f" stroke="#1a1a1a" stroke-width="2"/><rect x="1650.8" y="2306.2" width="9.5" height="9.5" fill="#f0f"/><rect x="1454.0" y="2315.4" width="8" height="8" fill="#f0f" stroke="#1a1a1a" stroke-width="2"/><rect x="1612.0" y="2319.3" width="8" height="8" fill="none" stroke="#1a1a1a" stroke-width="2"/><rect x="1361.3" y="2324.0" width="8" height="8" fill="#f0f" stroke="#1a1a1a" stroke-width="2"/><rect x="429.8" y="2329.2" width="9.5" height="9.5" fill="#f0f"/><rect x="483.0" y="2330.0" width="8" height="8" fill="none" stroke="#1a1a1a" stroke-width="2"/><rect x="426.6" y="2356.0" width="8" height="8" fill="#f0f" stroke="#1a1a1a" stroke-width="2"/><rect x="721.0" y="2360.0" width="8" height="8" fill="none" stroke="#1a1a1a" stroke-width="2"/><rect x="739.0" y="2365.0" width="8" height="8" fill="#f0f" stroke="#1a1a1a" stroke-width="2"/><rect x="632.0" y="2437.6" width="8" height="8" fill="none" stroke="#1a1a1a" stroke-width="2"/><rect x="648.0" y="2440.5" width="8" height="8" fill="none" stroke="#1a1a1a" stroke-width="2"/><rect x="662.0" y="2446.0" width="8" height="8" fill="none" stroke="#1a1a1a" stroke-width="2"/><rect x="413.7" y="2458.6" width="8" height="8" fill="none" stroke="#1a1a1a" stroke-width="2"/><rect x="1145.0" y="2330.0" width="8" height="8" fill="none" stroke="#1a1a1a" stroke-width="2"/><rect x="1088.0" y="2338.3" width="8" height="8" fill="none" stroke="#1a1a1a" stroke-width="2"/><rect x="1066.0" y="2349.2" width="9.5" height="9.5" fill="#f0f"/><rect x="1090.0" y="2355.4" width="8" height="8" fill="none" stroke="#1a1a1a" stroke-width="2"/><rect x="1105.4" y="2355.4" width="8" height="8" fill="none" stroke="#1a1a1a" stroke-width="2"/><rect x="877.2" y="2360.2" width="9.5" height="9.5" fill="#f0f"/><rect x="885.2" y="2360.2" width="9.5" height="9.5" fill="#f0f"/><rect x="1238.8" y="2345.7" width="9.5" height="9.5" fill="#f0f"/><rect x="951.5" y="2440.5" width="8" height="8" fill="none" stroke="#1a1a1a" stroke-width="2"/><rect x="958.0" y="2450.0" width="8" height="8" fill="none" stroke="#1a1a1a" stroke-width="2"/><rect x="1040.2" y="2445.2" width="9.5" height="9.5" fill="#f0f"/><rect x="1040.2" y="2450.2" width="9.5" height="9.5" fill="#f0f"/><rect x="1106.4" y="2453.5" width="8" height="8" fill="none" stroke="#1a1a1a" stroke-width="2"/><rect x="1238.6" y="2437.6" width="8" height="8" fill="none" stroke="#1a1a1a" stroke-width="2"/><rect x="1252.5" y="2440.5" width="8" height="8" fill="none" stroke="#1a1a1a" stroke-width="2"/><rect x="1253.0" y="2446.0" width="8" height="8" fill="none" stroke="#1a1a1a" stroke-width="2"/><rect x="791.0" y="2458.6" width="8" height="8" fill="none" stroke="#1a1a1a" stroke-width="2"/><rect x="1680.6" y="2338.3" width="8" height="8" fill="#f0f" stroke="#1a1a1a" stroke-width="2"/><rect x="1805.8" y="2341.8" width="9.5" height="9.5" fill="#f0f"/><rect x="1625.8" y="2329.2" width="9.5" height="9.5" fill="#f0f"/><rect x="1358.0" y="2351.0" width="8" height="8" fill="none" stroke="#1a1a1a" stroke-width="2"/><rect x="1601.6" y="2360.0" width="8" height="8" fill="none" stroke="#1a1a1a" stroke-width="2"/><rect x="1813.0" y="2355.4" width="8" height="8" fill="#f0f" stroke="#1a1a1a" stroke-width="2"/><rect x="1722.6" y="2369.6" width="8" height="8" fill="#f0f" stroke="#1a1a1a" stroke-width="2"/><rect x="1805.5" y="2369.6" width="8" height="8" fill="#f0f" stroke="#1a1a1a" stroke-width="2"/><rect x="1683.0" y="2378.0" width="8" height="8" fill="#f0f" stroke="#1a1a1a" stroke-width="2"/><rect x="1569.7" y="2387.3" width="8" height="8" fill="#f0f" stroke="#1a1a1a" stroke-width="2"/><rect x="1625.8" y="2391.5" width="8" height="8" fill="#f0f" stroke="#1a1a1a" stroke-width="2"/><rect x="1624.5" y="2405.4" width="8" height="8" fill="none" stroke="#1a1a1a" stroke-width="2"/><rect x="1700.0" y="2405.4" width="8" height="8" fill="none" stroke="#1a1a1a" stroke-width="2"/><rect x="1806.5" y="2410.2" width="8" height="8" fill="#f0f" stroke="#1a1a1a" stroke-width="2"/><rect x="1592.0" y="2414.7" width="8" height="8" fill="none" stroke="#1a1a1a" stroke-width="2"/><rect x="1383.0" y="2423.0" width="8" height="8" fill="none" stroke="#1a1a1a" stroke-width="2"/><rect x="1404.8" y="2422.2" width="9.5" height="9.5" fill="#f0f"/><rect x="1709.7" y="2423.0" width="8" height="8" fill="none" stroke="#1a1a1a" stroke-width="2"/><rect x="1564.2" y="2445.2" width="9.5" height="9.5" fill="#f0f"/><rect x="1805.8" y="2457.8" width="9.5" height="9.5" fill="#f0f"/>
<rect x="272" y="2377.7" width="1113" height="58.5" fill="#fff"/>
<text x="278" y="2423" font-size="56.5" fill="#000">Formal errors differences: GPS - Combined</text>
<rect x="268.7" y="1805" width="442.6" height="154.1" fill="#fff" stroke="#333" stroke-width="2"/>
<rect x="366.8" y="1842.3" width="9.6" height="9.2" fill="#f0f"/>
<rect x="368.3" y="1914.3" width="7.8" height="7.8" fill="none" stroke="#262626" stroke-width="2"/>
<text x="466" y="1867.6" font-size="56.3" fill="#000">Antenna</text>
<text x="466" y="1938" font-size="56.3" fill="#000">Receiver</text>
<path d="M367.8 1771v16M367.8 2466v-16" stroke="#262626" stroke-width="2"/>
<text x="367.8" y="2542" font-size="57" fill="#262626" text-anchor="middle">2003</text>
<path d="M515.6 1771v16M515.6 2466v-16" stroke="#262626" stroke-width="2"/>
<text x="515.6" y="2542" font-size="57" fill="#262626" text-anchor="middle">2004</text>
<path d="M663.5 1771v16M663.5 2466v-16" stroke="#262626" stroke-width="2"/>
<text x="663.5" y="2542" font-size="57" fill="#262626" text-anchor="middle">2005</text>
<path d="M811.3 1771v16M811.3 2466v-16" stroke="#262626" stroke-width="2"/>
<text x="811.3" y="2542" font-size="57" fill="#262626" text-anchor="middle">2006</text>
<path d="M959.1 1771v16M959.1 2466v-16" stroke="#262626" stroke-width="2"/>
<text x="959.1" y="2542" font-size="57" fill="#262626" text-anchor="middle">2007</text>
<path d="M1106.9 1771v16M1106.9 2466v-16" stroke="#262626" stroke-width="2"/>
<text x="1106.9" y="2542" font-size="57" fill="#262626" text-anchor="middle">2008</text>
<path d="M1254.7 1771v16M1254.7 2466v-16" stroke="#262626" stroke-width="2"/>
<text x="1254.7" y="2542" font-size="57" fill="#262626" text-anchor="middle">2009</text>
<path d="M1402.5 1771v16M1402.5 2466v-16" stroke="#262626" stroke-width="2"/>
<text x="1402.5" y="2542" font-size="57" fill="#262626" text-anchor="middle">2010</text>
<path d="M1550.4 1771v16M1550.4 2466v-16" stroke="#262626" stroke-width="2"/>
<text x="1550.4" y="2542" font-size="57" fill="#262626" text-anchor="middle">2011</text>
<path d="M1698.2 1771v16M1698.2 2466v-16" stroke="#262626" stroke-width="2"/>
<text x="1698.2" y="2542" font-size="57" fill="#262626" text-anchor="middle">2012</text>
<text x="1033" y="2611" font-size="57" fill="#262626" text-anchor="middle">Year</text>
</svg></body></html>
